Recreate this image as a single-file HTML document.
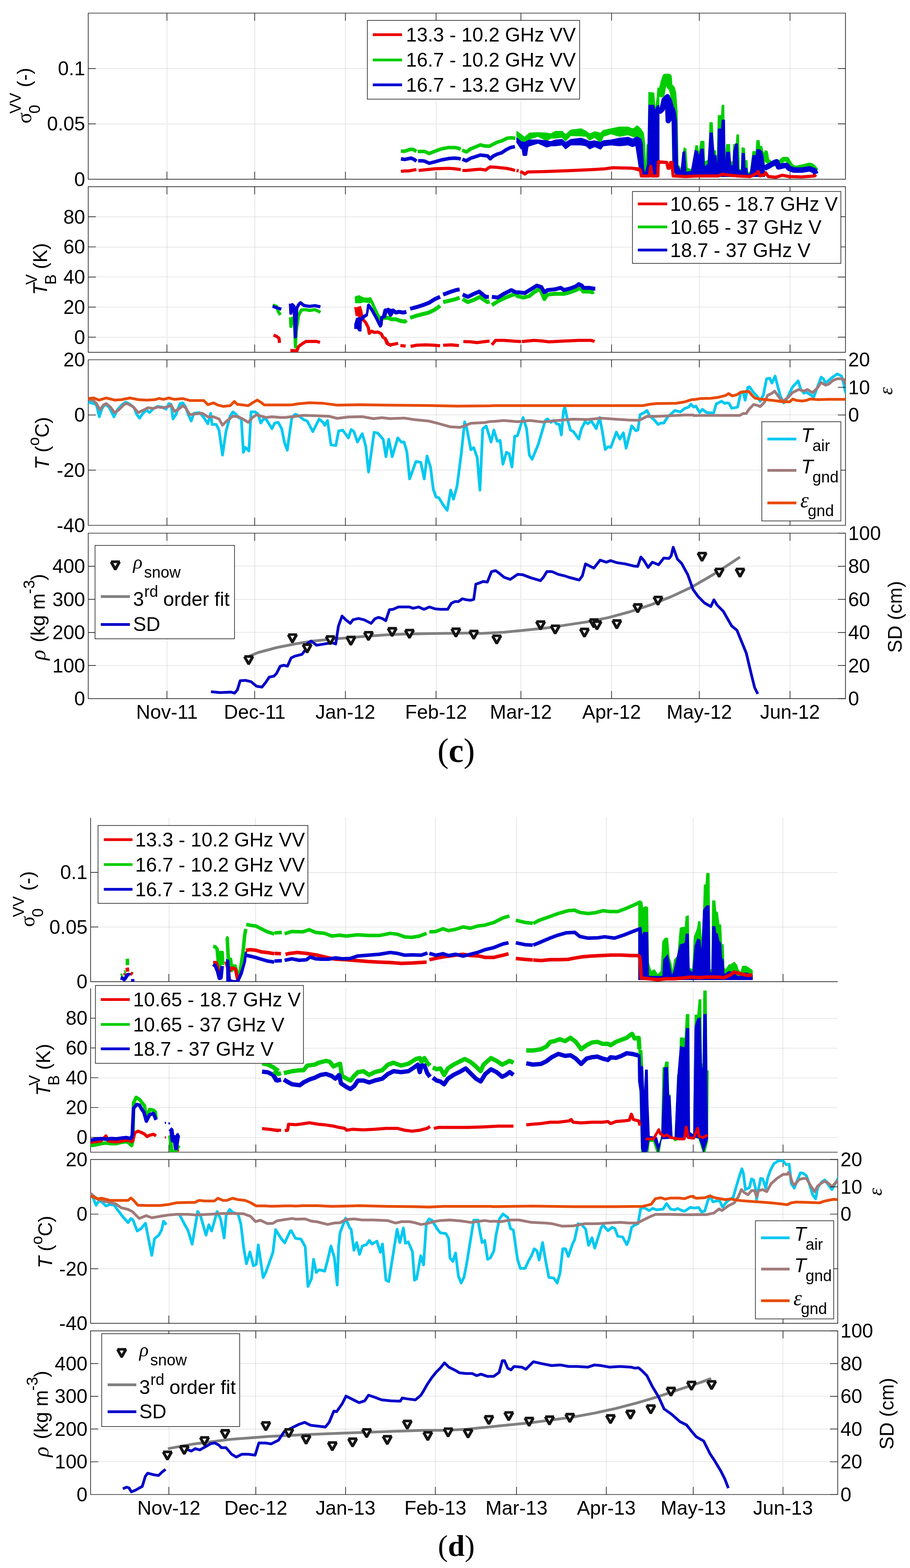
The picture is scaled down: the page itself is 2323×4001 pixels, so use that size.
<!DOCTYPE html><html><head><meta charset="utf-8"><title>figure</title><style>html,body{margin:0;padding:0;background:#fff}svg{display:block}</style></head><body><svg width="2323" height="4001" viewBox="0 0 2323 4001" font-family="'Liberation Sans', Arial, Helvetica, sans-serif" font-size="50" fill="#000">
<defs><clipPath id="cpc1"><rect x="225.3" y="33.5" width="1933.0000000000002" height="423.9"/></clipPath><clipPath id="cpc2"><rect x="225.3" y="476.4" width="1933.0000000000002" height="422.4"/></clipPath><clipPath id="cpc3"><rect x="225.3" y="918.0" width="1933.0000000000002" height="422.5"/></clipPath><clipPath id="cpc4"><rect x="225.3" y="1360.5" width="1933.0000000000002" height="422.0999999999999"/></clipPath><clipPath id="cpd1"><rect x="231.3" y="2086.7" width="1907.2" height="418.10000000000036"/></clipPath><clipPath id="cpd2"><rect x="231.3" y="2522.0" width="1907.2" height="418.0"/></clipPath><clipPath id="cpd3"><rect x="231.3" y="2958.7" width="1907.2" height="417.9000000000001"/></clipPath><clipPath id="cpd4"><rect x="231.3" y="3395.8" width="1907.2" height="417.6999999999998"/></clipPath></defs>
<rect width="2323" height="4001" fill="#fff"/>
<g stroke="#777" stroke-width="1" stroke-dasharray="1 2" fill="none" shape-rendering="crispEdges"><line x1="426.5" y1="33.5" x2="426.5" y2="457.4"/><line x1="650.5" y1="33.5" x2="650.5" y2="457.4"/><line x1="881.5" y1="33.5" x2="881.5" y2="457.4"/><line x1="1113.5" y1="33.5" x2="1113.5" y2="457.4"/><line x1="1329.5" y1="33.5" x2="1329.5" y2="457.4"/><line x1="1561.5" y1="33.5" x2="1561.5" y2="457.4"/><line x1="1785.5" y1="33.5" x2="1785.5" y2="457.4"/><line x1="2016.5" y1="33.5" x2="2016.5" y2="457.4"/><line x1="225.3" y1="316.5" x2="2158.3" y2="316.5"/><line x1="225.3" y1="174.5" x2="2158.3" y2="174.5"/></g>
<path d="M426.2 457.4V437.9M426.2 33.5V53.0M650.2 457.4V437.9M650.2 33.5V53.0M881.7 457.4V437.9M881.7 33.5V53.0M1113.2 457.4V437.9M1113.2 33.5V53.0M1329.7 457.4V437.9M1329.7 33.5V53.0M1561.2 457.4V437.9M1561.2 33.5V53.0M1785.2 457.4V437.9M1785.2 33.5V53.0M2016.7 457.4V437.9M2016.7 33.5V53.0M225.3 457.4H244.8M2158.3 457.4H2138.8M225.3 316.1H244.8M2158.3 316.1H2138.8M225.3 174.8H244.8M2158.3 174.8H2138.8M225.3 33.5H2158.3V457.4H225.3Z" stroke="#1c1c1c" stroke-width="1.7" fill="none"/>
<g stroke="#777" stroke-width="1" stroke-dasharray="1 2" fill="none" shape-rendering="crispEdges"><line x1="426.5" y1="476.4" x2="426.5" y2="898.8"/><line x1="650.5" y1="476.4" x2="650.5" y2="898.8"/><line x1="881.5" y1="476.4" x2="881.5" y2="898.8"/><line x1="1113.5" y1="476.4" x2="1113.5" y2="898.8"/><line x1="1329.5" y1="476.4" x2="1329.5" y2="898.8"/><line x1="1561.5" y1="476.4" x2="1561.5" y2="898.8"/><line x1="1785.5" y1="476.4" x2="1785.5" y2="898.8"/><line x1="2016.5" y1="476.4" x2="2016.5" y2="898.8"/><line x1="225.3" y1="860.5" x2="2158.3" y2="860.5"/><line x1="225.3" y1="783.5" x2="2158.3" y2="783.5"/><line x1="225.3" y1="706.5" x2="2158.3" y2="706.5"/><line x1="225.3" y1="630.5" x2="2158.3" y2="630.5"/><line x1="225.3" y1="553.5" x2="2158.3" y2="553.5"/></g>
<path d="M426.2 898.8V879.3M426.2 476.4V495.9M650.2 898.8V879.3M650.2 476.4V495.9M881.7 898.8V879.3M881.7 476.4V495.9M1113.2 898.8V879.3M1113.2 476.4V495.9M1329.7 898.8V879.3M1329.7 476.4V495.9M1561.2 898.8V879.3M1561.2 476.4V495.9M1785.2 898.8V879.3M1785.2 476.4V495.9M2016.7 898.8V879.3M2016.7 476.4V495.9M225.3 860.4H244.8M2158.3 860.4H2138.8M225.3 783.6H244.8M2158.3 783.6H2138.8M225.3 706.8H244.8M2158.3 706.8H2138.8M225.3 630.0H244.8M2158.3 630.0H2138.8M225.3 553.2H244.8M2158.3 553.2H2138.8M225.3 476.4H2158.3V898.8H225.3Z" stroke="#1c1c1c" stroke-width="1.7" fill="none"/>
<g stroke="#777" stroke-width="1" stroke-dasharray="1 2" fill="none" shape-rendering="crispEdges"><line x1="426.5" y1="918.0" x2="426.5" y2="1340.5"/><line x1="650.5" y1="918.0" x2="650.5" y2="1340.5"/><line x1="881.5" y1="918.0" x2="881.5" y2="1340.5"/><line x1="1113.5" y1="918.0" x2="1113.5" y2="1340.5"/><line x1="1329.5" y1="918.0" x2="1329.5" y2="1340.5"/><line x1="1561.5" y1="918.0" x2="1561.5" y2="1340.5"/><line x1="1785.5" y1="918.0" x2="1785.5" y2="1340.5"/><line x1="2016.5" y1="918.0" x2="2016.5" y2="1340.5"/><line x1="225.3" y1="1199.5" x2="2158.3" y2="1199.5"/><line x1="225.3" y1="1058.5" x2="2158.3" y2="1058.5"/></g>
<path d="M426.2 1340.5V1321.0M426.2 918.0V937.5M650.2 1340.5V1321.0M650.2 918.0V937.5M881.7 1340.5V1321.0M881.7 918.0V937.5M1113.2 1340.5V1321.0M1113.2 918.0V937.5M1329.7 1340.5V1321.0M1329.7 918.0V937.5M1561.2 1340.5V1321.0M1561.2 918.0V937.5M1785.2 1340.5V1321.0M1785.2 918.0V937.5M2016.7 1340.5V1321.0M2016.7 918.0V937.5M225.3 1340.5H244.8M225.3 1199.7H244.8M225.3 1058.8H244.8M225.3 918.0H244.8M225.3 918.0H2158.3V1340.5H225.3Z" stroke="#1c1c1c" stroke-width="1.7" fill="none"/>
<g stroke="#777" stroke-width="1" stroke-dasharray="1 2" fill="none" shape-rendering="crispEdges"><line x1="426.5" y1="1360.5" x2="426.5" y2="1782.6"/><line x1="650.5" y1="1360.5" x2="650.5" y2="1782.6"/><line x1="881.5" y1="1360.5" x2="881.5" y2="1782.6"/><line x1="1113.5" y1="1360.5" x2="1113.5" y2="1782.6"/><line x1="1329.5" y1="1360.5" x2="1329.5" y2="1782.6"/><line x1="1561.5" y1="1360.5" x2="1561.5" y2="1782.6"/><line x1="1785.5" y1="1360.5" x2="1785.5" y2="1782.6"/><line x1="2016.5" y1="1360.5" x2="2016.5" y2="1782.6"/><line x1="225.3" y1="1698.5" x2="2158.3" y2="1698.5"/><line x1="225.3" y1="1613.5" x2="2158.3" y2="1613.5"/><line x1="225.3" y1="1529.5" x2="2158.3" y2="1529.5"/><line x1="225.3" y1="1444.5" x2="2158.3" y2="1444.5"/></g>
<path d="M426.2 1782.6V1763.1M426.2 1360.5V1380.0M650.2 1782.6V1763.1M650.2 1360.5V1380.0M881.7 1782.6V1763.1M881.7 1360.5V1380.0M1113.2 1782.6V1763.1M1113.2 1360.5V1380.0M1329.7 1782.6V1763.1M1329.7 1360.5V1380.0M1561.2 1782.6V1763.1M1561.2 1360.5V1380.0M1785.2 1782.6V1763.1M1785.2 1360.5V1380.0M2016.7 1782.6V1763.1M2016.7 1360.5V1380.0M225.3 1782.6H244.8M225.3 1698.2H244.8M225.3 1613.8H244.8M225.3 1529.3H244.8M225.3 1444.9H244.8M225.3 1360.5H2158.3V1782.6H225.3Z" stroke="#1c1c1c" stroke-width="1.7" fill="none"/>
<g stroke="#777" stroke-width="1" stroke-dasharray="1 2" fill="none" shape-rendering="crispEdges"><line x1="431.5" y1="2086.7" x2="431.5" y2="2504.8"/><line x1="652.5" y1="2086.7" x2="652.5" y2="2504.8"/><line x1="882.5" y1="2086.7" x2="882.5" y2="2504.8"/><line x1="1111.5" y1="2086.7" x2="1111.5" y2="2504.8"/><line x1="1318.5" y1="2086.7" x2="1318.5" y2="2504.8"/><line x1="1547.5" y1="2086.7" x2="1547.5" y2="2504.8"/><line x1="1769.5" y1="2086.7" x2="1769.5" y2="2504.8"/><line x1="1998.5" y1="2086.7" x2="1998.5" y2="2504.8"/><line x1="231.3" y1="2365.5" x2="2138.5" y2="2365.5"/><line x1="231.3" y1="2226.5" x2="2138.5" y2="2226.5"/></g>
<path d="M431.1 2504.8V2485.3M653.0 2504.8V2485.3M882.2 2504.8V2485.3M1111.4 2504.8V2485.3M1318.5 2504.8V2485.3M1547.7 2504.8V2485.3M1769.6 2504.8V2485.3M1998.8 2504.8V2485.3M231.3 2504.8H250.8M231.3 2365.4H250.8M231.3 2226.1H250.8M231.3 2086.7V2504.8H2138.5" stroke="#1c1c1c" stroke-width="1.7" fill="none"/>
<g stroke="#777" stroke-width="1" stroke-dasharray="1 2" fill="none" shape-rendering="crispEdges"><line x1="431.5" y1="2522.0" x2="431.5" y2="2940.0"/><line x1="652.5" y1="2522.0" x2="652.5" y2="2940.0"/><line x1="882.5" y1="2522.0" x2="882.5" y2="2940.0"/><line x1="1111.5" y1="2522.0" x2="1111.5" y2="2940.0"/><line x1="1318.5" y1="2522.0" x2="1318.5" y2="2940.0"/><line x1="1547.5" y1="2522.0" x2="1547.5" y2="2940.0"/><line x1="1769.5" y1="2522.0" x2="1769.5" y2="2940.0"/><line x1="1998.5" y1="2522.0" x2="1998.5" y2="2940.0"/><line x1="231.3" y1="2902.5" x2="2138.5" y2="2902.5"/><line x1="231.3" y1="2826.5" x2="2138.5" y2="2826.5"/><line x1="231.3" y1="2750.5" x2="2138.5" y2="2750.5"/><line x1="231.3" y1="2674.5" x2="2138.5" y2="2674.5"/><line x1="231.3" y1="2598.5" x2="2138.5" y2="2598.5"/></g>
<path d="M431.1 2940.0V2920.5M653.0 2940.0V2920.5M882.2 2940.0V2920.5M1111.4 2940.0V2920.5M1318.5 2940.0V2920.5M1547.7 2940.0V2920.5M1769.6 2940.0V2920.5M1998.8 2940.0V2920.5M231.3 2902.0H250.8M231.3 2826.0H250.8M231.3 2750.0H250.8M231.3 2674.0H250.8M231.3 2598.0H250.8M231.3 2522.0V2940.0H2138.5" stroke="#1c1c1c" stroke-width="1.7" fill="none"/>
<g stroke="#777" stroke-width="1" stroke-dasharray="1 2" fill="none" shape-rendering="crispEdges"><line x1="431.5" y1="2958.7" x2="431.5" y2="3376.6"/><line x1="652.5" y1="2958.7" x2="652.5" y2="3376.6"/><line x1="882.5" y1="2958.7" x2="882.5" y2="3376.6"/><line x1="1111.5" y1="2958.7" x2="1111.5" y2="3376.6"/><line x1="1318.5" y1="2958.7" x2="1318.5" y2="3376.6"/><line x1="1547.5" y1="2958.7" x2="1547.5" y2="3376.6"/><line x1="1769.5" y1="2958.7" x2="1769.5" y2="3376.6"/><line x1="1998.5" y1="2958.7" x2="1998.5" y2="3376.6"/><line x1="231.3" y1="3237.5" x2="2138.5" y2="3237.5"/><line x1="231.3" y1="3098.5" x2="2138.5" y2="3098.5"/></g>
<path d="M431.1 3376.6V3357.1M431.1 2958.7V2978.2M653.0 3376.6V3357.1M653.0 2958.7V2978.2M882.2 3376.6V3357.1M882.2 2958.7V2978.2M1111.4 3376.6V3357.1M1111.4 2958.7V2978.2M1318.5 3376.6V3357.1M1318.5 2958.7V2978.2M1547.7 3376.6V3357.1M1547.7 2958.7V2978.2M1769.6 3376.6V3357.1M1769.6 2958.7V2978.2M1998.8 3376.6V3357.1M1998.8 2958.7V2978.2M231.3 3376.6H250.8M231.3 3237.3H250.8M231.3 3098.0H250.8M231.3 2958.7H250.8M231.3 2958.7H2138.5V3376.6H231.3Z" stroke="#1c1c1c" stroke-width="1.7" fill="none"/>
<g stroke="#777" stroke-width="1" stroke-dasharray="1 2" fill="none" shape-rendering="crispEdges"><line x1="431.5" y1="3395.8" x2="431.5" y2="3813.5"/><line x1="652.5" y1="3395.8" x2="652.5" y2="3813.5"/><line x1="882.5" y1="3395.8" x2="882.5" y2="3813.5"/><line x1="1111.5" y1="3395.8" x2="1111.5" y2="3813.5"/><line x1="1318.5" y1="3395.8" x2="1318.5" y2="3813.5"/><line x1="1547.5" y1="3395.8" x2="1547.5" y2="3813.5"/><line x1="1769.5" y1="3395.8" x2="1769.5" y2="3813.5"/><line x1="1998.5" y1="3395.8" x2="1998.5" y2="3813.5"/><line x1="231.3" y1="3729.5" x2="2138.5" y2="3729.5"/><line x1="231.3" y1="3646.5" x2="2138.5" y2="3646.5"/><line x1="231.3" y1="3562.5" x2="2138.5" y2="3562.5"/><line x1="231.3" y1="3479.5" x2="2138.5" y2="3479.5"/></g>
<path d="M431.1 3813.5V3794.0M431.1 3395.8V3415.3M653.0 3813.5V3794.0M653.0 3395.8V3415.3M882.2 3813.5V3794.0M882.2 3395.8V3415.3M1111.4 3813.5V3794.0M1111.4 3395.8V3415.3M1318.5 3813.5V3794.0M1318.5 3395.8V3415.3M1547.7 3813.5V3794.0M1547.7 3395.8V3415.3M1769.6 3813.5V3794.0M1769.6 3395.8V3415.3M1998.8 3813.5V3794.0M1998.8 3395.8V3415.3M231.3 3813.5H250.8M231.3 3730.0H250.8M231.3 3646.4H250.8M231.3 3562.9H250.8M231.3 3479.3H250.8M231.3 3395.8H2138.5V3813.5H231.3Z" stroke="#1c1c1c" stroke-width="1.7" fill="none"/>
<g clip-path="url(#cpc1)">
<polyline points="1023.5,385.4 1032.6,385.9 1048.3,380.9 1055.1,381.4 1063.0,386.5" stroke="#00cd00" stroke-width="9" fill="none" stroke-linejoin="round"/>
<polyline points="1066.4,386.5 1077.7,386.5 1084.4,386.5 1095.7,391.7 1111.5,385.4 1127.3,379.8 1145.3,376.4 1158.9,376.4 1167.9,377.5 1176.2,380.9" stroke="#00cd00" stroke-width="9" fill="none" stroke-linejoin="round"/>
<polyline points="1179.6,383.2 1190.5,387.7 1201.7,379.8 1213.0,375.3 1226.5,369.6 1235.6,372.3 1249.1,373.0 1258.1,368.5 1269.4,362.9 1280.7,359.5 1294.2,352.7 1303.2,351.6 1315.6,352.7" stroke="#00cd00" stroke-width="9" fill="none" stroke-linejoin="round"/>
<polygon points="1319.1,335.0 1330.0,342.7 1338.7,350.3 1351.9,339.4 1373.7,338.3 1395.6,339.4 1406.6,341.6 1417.5,335.0 1435.0,335.0 1443.7,343.7 1456.9,331.7 1483.1,328.4 1496.2,335.0 1505.0,341.6 1518.1,336.1 1533.4,339.4 1540.0,332.8 1559.7,328.4 1581.5,324.1 1603.4,324.1 1614.3,328.4 1627.5,324.1 1636.2,335.0 1640.6,339.4 1640.6,365.6 1636.2,359.1 1627.5,352.5 1614.3,348.1 1603.4,343.7 1581.5,348.1 1559.7,341.6 1540.0,348.1 1533.4,365.6 1518.1,350.3 1505.0,358.0 1496.2,348.1 1483.1,347.0 1456.9,345.9 1443.7,360.1 1435.0,350.3 1417.5,352.5 1406.6,352.5 1395.6,359.1 1373.7,348.1 1351.9,354.7 1338.7,365.6 1330.0,363.4 1319.1,347.0" fill="#00cd00" stroke="#00cd00" stroke-width="2" stroke-linejoin="round"/>
<polyline points="1333.3,352.5 1336.6,372.2 1342.0,372.2 1346.4,354.7" stroke="#00cd00" stroke-width="8" fill="none" stroke-linejoin="round"/>
<polyline points="1620.0,330.8 1626.6,324.2 1633.1,330.8 1639.7,340.6 1643.0,366.9 1644.6,432.5 1647.9,445.6" stroke="#00cd00" stroke-width="8" fill="none" stroke-linejoin="round"/>
<polygon points="1634.8,448.9 1639.7,340.6 1643.0,366.9 1644.6,432.5 1647.9,445.6 1651.2,370.1 1654.4,366.9 1656.1,235.6 1669.2,237.3 1672.5,281.5 1677.4,248.7 1679.1,224.1 1682.3,225.1 1682.3,448.9" fill="#00cd00" stroke="#00cd00" stroke-width="2" stroke-linejoin="round"/>
<polyline points="1682.3,225.1 1685.6,225.8 1688.9,240.5 1693.8,211.0 1698.7,196.2 1706.9,196.2 1708.6,219.2 1715.1,225.8 1718.4,238.9 1721.7,284.8 1724.3,432.5" stroke="#00cd00" stroke-width="16" fill="none" stroke-linejoin="round"/>
<polygon points="1724.3,450.5 1724.3,432.5 1728.3,425.9 1733.2,422.6 1738.1,432.5 1743.0,399.7 1746.3,376.7 1751.2,380.0 1754.5,429.2 1764.4,432.5 1770.9,416.1 1775.8,371.8 1780.8,371.8 1784.0,393.1 1789.0,360.3 1797.2,360.3 1798.8,412.8 1807.0,409.5 1810.3,396.4 1811.9,312.7 1818.5,312.7 1821.8,383.3 1826.7,384.9 1830.0,439.0 1833.3,294.7 1841.5,294.7 1843.1,268.4 1848.0,268.4 1849.7,425.9 1854.6,368.5 1862.8,368.5 1864.4,412.8 1871.0,412.8 1872.6,368.5 1879.2,368.5 1880.8,343.9 1885.7,343.9 1887.4,432.5 1892.3,432.5 1894.0,376.7 1900.5,378.3 1902.2,409.5 1907.1,409.5 1908.7,442.3 1915.3,437.4 1921.8,386.5 1930.0,386.5 1931.7,358.6 1938.2,358.6 1939.9,373.4 1944.8,373.4 1948.1,388.2 1951.4,389.8 1951.4,450.5" fill="#00cd00" stroke="#00cd00" stroke-width="2" stroke-linejoin="round"/>
<polyline points="1951.4,389.8 1954.6,389.8 1957.9,409.5 1964.5,414.4 1971.0,419.3 1980.9,417.7 1990.7,414.4 2000.6,406.2 2008.8,406.2 2013.7,414.4 2020.3,424.3 2030.1,429.2 2046.5,425.9 2066.2,421.0 2072.8,422.6 2079.3,429.2 2084.2,435.7" stroke="#00cd00" stroke-width="12" fill="none" stroke-linejoin="round"/>
<polyline points="1023.5,405.3 1032.6,406.8 1049.5,403.5 1057.4,406.8 1063.0,411.4" stroke="#0000d2" stroke-width="9" fill="none" stroke-linejoin="round"/>
<polyline points="1067.5,410.2 1077.7,410.2 1084.4,411.4 1095.7,416.5 1111.5,412.5 1127.3,408.0 1145.3,404.6 1158.9,403.5 1167.9,403.9 1176.2,405.7" stroke="#0000d2" stroke-width="9" fill="none" stroke-linejoin="round"/>
<polyline points="1180.3,406.4 1190.5,410.2 1201.7,403.5 1213.0,400.1 1226.5,395.6 1235.6,396.7 1244.6,397.8 1251.4,405.3 1258.1,398.9 1269.4,393.3 1280.7,389.9 1292.0,382.0 1303.2,376.4 1314.5,374.1" stroke="#0000d2" stroke-width="9" fill="none" stroke-linejoin="round"/>
<polygon points="1319.1,351.4 1330.0,361.2 1338.7,363.4 1351.9,356.9 1373.7,356.9 1395.6,359.1 1406.6,361.2 1417.5,356.9 1435.0,355.8 1443.7,363.4 1456.9,355.8 1483.1,352.5 1496.2,356.9 1505.0,361.2 1518.1,359.1 1533.4,363.4 1540.0,359.1 1559.7,356.9 1581.5,352.5 1603.4,350.3 1614.3,354.7 1627.5,350.3 1636.2,354.7 1639.5,365.6 1639.5,387.5 1636.2,380.9 1627.5,370.0 1614.3,374.4 1603.4,370.0 1581.5,372.2 1559.7,370.0 1540.0,372.2 1533.4,380.9 1518.1,374.4 1505.0,380.1 1496.2,372.2 1483.1,370.0 1456.9,370.0 1443.7,380.1 1435.0,370.0 1417.5,372.2 1406.6,372.2 1395.6,375.5 1373.7,365.6 1351.9,372.2 1338.7,380.1 1330.0,380.1 1319.1,363.4" fill="#0000d2" stroke="#0000d2" stroke-width="2" stroke-linejoin="round"/>
<polyline points="1334.4,372.2 1337.7,394.1 1342.0,394.1 1345.3,372.2" stroke="#0000d2" stroke-width="8" fill="none" stroke-linejoin="round"/>
<polygon points="1620.0,352.1 1626.6,348.8 1633.1,353.7 1634.8,370.1 1639.7,366.9 1643.0,425.9 1646.2,445.6 1652.8,419.3 1656.1,268.4 1669.2,268.4 1672.5,283.2 1677.4,270.1 1682.3,268.4 1682.3,448.9 1634.8,448.9" fill="#0000d2" stroke="#0000d2" stroke-width="2" stroke-linejoin="round"/>
<polyline points="1682.3,275.0 1685.6,283.2 1690.5,278.3 1695.5,255.3 1703.7,247.1 1706.0,307.8 1707.9,255.3 1711.9,268.4 1713.5,301.2 1715.8,278.3 1718.4,288.1 1721.7,311.1 1724.3,442.3" stroke="#0000d2" stroke-width="14" fill="none" stroke-linejoin="round"/>
<polygon points="1724.3,442.3 1731.5,424.3 1738.1,439.0 1743.0,388.2 1748.0,386.5 1751.2,439.0 1764.4,437.4 1774.2,383.3 1780.8,386.5 1784.0,399.7 1789.0,380.0 1795.5,380.0 1798.8,425.9 1807.0,419.3 1811.9,339.0 1818.5,339.0 1823.4,396.4 1828.3,396.4 1831.6,442.3 1833.3,329.1 1841.5,329.1 1843.1,306.2 1849.7,306.2 1851.3,432.5 1854.6,388.2 1862.8,388.2 1866.1,422.6 1871.0,422.6 1872.6,386.5 1877.5,366.9 1882.5,366.9 1885.7,432.5 1892.3,439.0 1894.0,391.5 1900.5,391.5 1902.2,429.2 1907.1,429.2 1908.7,445.6 1915.3,442.3 1921.8,396.4 1930.0,396.4 1931.7,381.6 1938.2,381.6 1944.8,386.5 1948.1,399.7 1951.4,429.2 1951.4,450.5 1724.3,450.5" fill="#0000d2" stroke="#0000d2" stroke-width="2" stroke-linejoin="round"/>
<polyline points="1951.4,429.2 1964.5,422.6 1977.6,414.4 1982.5,412.8 1987.5,425.9 2000.6,422.6 2008.8,422.6 2013.7,429.2 2026.8,434.1 2046.5,434.1 2066.2,430.8 2079.3,435.7 2082.6,444.0" stroke="#0000d2" stroke-width="14" fill="none" stroke-linejoin="round"/>
<polyline points="1023.5,437.3 1032.6,436.2 1043.8,436.2 1055.1,433.9 1063.0,432.8" stroke="#eb0000" stroke-width="8" fill="none" stroke-linejoin="round"/>
<polyline points="1068.6,435.0 1077.7,433.9 1100.2,431.7 1111.5,430.5 1127.3,429.9 1145.3,429.4 1158.9,430.5 1176.2,432.8" stroke="#eb0000" stroke-width="8" fill="none" stroke-linejoin="round"/>
<polyline points="1180.3,435.0 1190.5,435.0 1213.0,432.8 1226.5,431.7 1240.1,433.9 1246.8,428.3 1251.4,426.0 1269.4,427.1 1292.0,429.4 1303.2,431.7 1315.0,435.0" stroke="#eb0000" stroke-width="8" fill="none" stroke-linejoin="round"/>
<polyline points="1318.6,435.0 1324.0,436.2" stroke="#eb0000" stroke-width="8" fill="none" stroke-linejoin="round"/>
<polyline points="1328.0,437.3 1334.8,440.7 1340.0,444.1 1347.4,438.8 1383.5,437.9 1451.1,435.6 1496.2,433.4 1541.3,431.1 1563.9,428.0 1609.0,428.9 1631.6,431.1 1636.1,437.9" stroke="#eb0000" stroke-width="8" fill="none" stroke-linejoin="round"/>
<polyline points="1620.0,430.8 1634.8,434.1 1637.1,448.9 1657.7,448.9 1661.0,424.3 1664.3,448.9 1679.1,448.9 1680.7,412.8 1702.0,414.4 1705.3,429.2 1708.6,429.2 1711.9,414.4 1715.1,414.4 1718.4,448.9 1751.2,450.5 1784.0,448.9 1833.3,448.9 1846.4,444.0 1849.7,445.6 1882.5,448.9 1915.3,450.5 1931.7,442.3 1935.6,437.4 1939.9,448.9 1951.4,445.6 1954.6,440.7 1961.2,450.5 1980.9,452.2 1997.3,447.2 2013.7,450.5 2046.5,451.5 2079.3,448.9 2083.3,445.6" stroke="#eb0000" stroke-width="8" fill="none" stroke-linejoin="round"/>
</g>
<g clip-path="url(#cpc2)">
<polyline points="696.0,778.3 706.5,781.8 710.0,794.6 715.8,803.9" stroke="#00cd00" stroke-width="8" fill="none" stroke-linejoin="round"/>
<polyline points="698.3,855.0 706.5,858.5 712.3,863.2 713.5,874.8" stroke="#eb0000" stroke-width="8" fill="none" stroke-linejoin="round"/>
<polyline points="696.0,781.8 706.5,785.3 718.1,788.8" stroke="#0000d2" stroke-width="8" fill="none" stroke-linejoin="round"/>
<polyline points="741.3,809.7 742.5,833.0 746.0,812.0 751.8,828.3 754.1,885.2 756.4,844.6 762.3,805.1 769.2,791.1 780.8,790.0 790.1,792.3 804.1,790.0 818.0,796.9" stroke="#00cd00" stroke-width="8" fill="none" stroke-linejoin="round"/>
<polyline points="741.3,774.9 742.5,799.3 746.0,777.2 750.6,781.8 754.1,859.7 757.6,786.5 762.3,777.2 766.9,772.5 776.2,779.5 790.1,781.8 804.1,780.0 818.0,783.0" stroke="#0000d2" stroke-width="8" fill="none" stroke-linejoin="round"/>
<polyline points="741.3,894.5 750.6,894.5 757.6,895.7 762.3,884.1 771.6,877.1 780.8,871.3 794.8,871.3 808.7,871.3 816.9,873.6" stroke="#eb0000" stroke-width="8" fill="none" stroke-linejoin="round"/>
<polyline points="980.0,811.0 991.5,811.0 999.1,814.8 1010.6,814.8 1022.1,818.7 1033.6,820.6 1037.4,816.7" stroke="#00cd00" stroke-width="10" fill="none" stroke-linejoin="round"/>
<polyline points="1047.0,811.0 1064.2,805.3 1079.5,801.4 1094.8,797.6 1110.1,790.0 1123.5,780.4" stroke="#00cd00" stroke-width="10" fill="none" stroke-linejoin="round"/>
<polyline points="1131.2,770.8 1148.4,767.0 1163.7,763.2 1173.3,759.3" stroke="#00cd00" stroke-width="10" fill="none" stroke-linejoin="round"/>
<polyline points="1181.0,763.2 1194.4,770.8 1209.7,765.1 1225.0,757.4 1232.6,763.2 1244.1,770.8 1249.9,768.9" stroke="#00cd00" stroke-width="10" fill="none" stroke-linejoin="round"/>
<polyline points="1255.6,778.5 1270.9,768.9 1286.2,761.2 1305.4,753.6 1316.8,749.8 1320.7,755.5 1336.0,759.3 1351.3,755.5 1362.8,745.9 1378.1,736.4 1385.7,753.6 1389.6,763.2 1397.2,751.7 1416.4,749.8 1439.3,749.8 1454.6,745.9 1470.0,740.2 1481.4,734.4 1489.1,744.0 1504.4,744.0 1512.1,745.9 1515.9,744.0" stroke="#00cd00" stroke-width="10" fill="none" stroke-linejoin="round"/>
<polyline points="981.9,860.8 987.7,876.1 995.3,879.9 1006.8,878.0 1016.4,876.1" stroke="#eb0000" stroke-width="8" fill="none" stroke-linejoin="round"/>
<polyline points="1022.1,881.8 1035.5,883.0" stroke="#eb0000" stroke-width="8" fill="none" stroke-linejoin="round"/>
<polyline points="1048.1,883.7 1064.2,880.7 1087.2,879.9 1106.3,880.7 1123.5,882.2" stroke="#eb0000" stroke-width="8" fill="none" stroke-linejoin="round"/>
<polyline points="1131.2,881.1 1152.2,879.9 1171.4,881.8" stroke="#eb0000" stroke-width="8" fill="none" stroke-linejoin="round"/>
<polyline points="1182.9,871.5 1202.0,872.2 1217.3,874.2 1232.6,872.2 1249.9,870.3" stroke="#eb0000" stroke-width="8" fill="none" stroke-linejoin="round"/>
<polyline points="1255.6,879.9 1265.2,868.4 1286.2,868.4 1309.2,870.3 1328.3,871.5 1330.2,871.5" stroke="#eb0000" stroke-width="8" fill="none" stroke-linejoin="round"/>
<polyline points="1332.2,871.5 1362.8,868.4 1385.7,870.3 1401.1,872.2 1439.3,870.3 1477.6,868.4 1508.2,868.4 1517.8,871.1" stroke="#eb0000" stroke-width="8" fill="none" stroke-linejoin="round"/>
<polyline points="980.0,807.2 983.8,791.9 991.5,791.9 997.2,803.3 1003.0,791.9 1010.6,797.6 1018.3,795.7 1029.8,797.6 1037.4,795.7" stroke="#0000d2" stroke-width="10" fill="none" stroke-linejoin="round"/>
<polyline points="1047.0,788.0 1064.2,783.4 1079.5,778.5 1094.8,772.7 1110.1,763.2 1123.5,757.4" stroke="#0000d2" stroke-width="10" fill="none" stroke-linejoin="round"/>
<polyline points="1131.2,751.7 1148.4,745.2 1163.7,740.2 1173.3,738.3" stroke="#0000d2" stroke-width="10" fill="none" stroke-linejoin="round"/>
<polyline points="1181.0,751.7 1194.4,757.4 1209.7,749.8 1223.1,744.0 1232.6,751.7 1240.3,757.4 1247.9,757.4" stroke="#0000d2" stroke-width="10" fill="none" stroke-linejoin="round"/>
<polyline points="1255.6,757.4 1270.9,759.3 1286.2,749.8 1305.4,740.2 1316.8,745.9 1324.5,745.9 1339.8,747.8 1355.1,738.3 1370.4,728.7 1381.9,732.5 1389.6,745.9 1397.2,740.2 1416.4,738.3 1431.7,734.4 1439.3,740.2 1454.6,736.4 1470.0,730.6 1477.6,724.9 1485.3,728.7 1489.1,734.4 1504.4,734.4 1515.9,736.4 1519.7,736.4" stroke="#0000d2" stroke-width="10" fill="none" stroke-linejoin="round"/>
<polygon points="906.4,757.5 916.2,754.2 927.2,759.7 940.3,760.8 944.7,758.6 947.9,761.9 950.1,772.8 943.6,772.8 938.1,771.7 927.2,770.6 920.6,772.8 907.5,772.8" fill="#00cd00" stroke="#00cd00" stroke-width="2" stroke-linejoin="round"/>
<polyline points="945.7,764.1 951.2,775.0 957.8,790.3 964.3,803.4 973.1,817.6 977.5,812.2 986.2,810.0 995.0,812.2 1000.0,813.3" stroke="#00cd00" stroke-width="8" fill="none" stroke-linejoin="round"/>
<polygon points="905.3,784.8 911.8,784.8 916.2,782.7 920.6,781.6 923.9,792.5 926.1,805.6 927.6,816.6 922.8,812.2 918.4,810.0 912.9,805.6 908.6,805.6" fill="#eb0000" stroke="#eb0000" stroke-width="2" stroke-linejoin="round"/>
<polyline points="926.7,815.5 933.7,823.1 940.3,836.2 942.5,850.5 949.0,845.0 955.6,848.3 964.3,847.2 973.1,851.5 977.5,860.3 984.0,864.7 990.6,877.8 1000.0,882.2" stroke="#eb0000" stroke-width="8" fill="none" stroke-linejoin="round"/>
<polygon points="905.3,827.5 909.7,812.2 916.2,810.0 920.6,812.2 922.8,807.8 929.3,803.4 934.8,801.2 938.1,777.2 941.4,775.0 942.0,783.7 938.1,805.6 929.3,812.2 922.8,818.7 921.7,845.0 916.2,845.0 911.8,838.4 905.3,838.4" fill="#0000d2" stroke="#0000d2" stroke-width="2" stroke-linejoin="round"/>
<polyline points="940.3,777.2 949.0,790.3 960.0,810.0 970.9,831.9 973.1,827.5 974.2,810.0 981.8,807.8 986.2,792.5 990.6,789.2 995.0,791.4 1000.0,792.5" stroke="#0000d2" stroke-width="8" fill="none" stroke-linejoin="round"/>
</g>
<g clip-path="url(#cpc3)">
<polyline points="225.0,1026.2 239.2,1029.8 246.3,1033.3 253.4,1063.5 260.5,1042.2 267.7,1031.5 278.3,1038.6 290.8,1063.5 299.6,1045.8 310.3,1033.3 321.0,1026.2 331.6,1031.5 342.3,1040.4 349.4,1058.2 356.5,1067.1 363.6,1056.4 374.3,1045.8 381.4,1052.9 392.1,1042.2 402.7,1036.9 413.4,1038.6 424.0,1044.0 431.1,1029.8 436.5,1031.5 441.8,1068.9 448.9,1058.2 459.6,1029.8 466.7,1028.0 473.8,1038.6 480.9,1058.2 488.0,1074.2 495.1,1054.6 509.3,1052.9 520.0,1065.3 530.7,1081.3 537.8,1054.6 541.3,1083.1 552.0,1083.1 559.1,1097.3 568.0,1161.3 576.9,1100.8 587.5,1061.7 594.6,1051.1 601.8,1056.4 608.9,1065.3 616.0,1068.9 621.3,1154.2 626.6,1141.7 635.5,1150.6 640.9,1051.1 651.5,1051.1 658.6,1056.4 665.7,1079.5 672.8,1068.9 679.9,1070.6 694.2,1093.7 701.3,1079.5 710.2,1077.7 719.0,1093.7 726.2,1129.3 733.3,1148.8 740.4,1097.3 745.3,1064.0 754.2,1056.9 761.3,1060.4 775.5,1071.1 784.4,1074.6 798.6,1101.3 814.6,1069.3 825.3,1078.2 828.9,1085.3 836.0,1072.9 844.9,1135.1 857.3,1136.8 864.4,1099.5 875.1,1097.7 889.3,1117.3 896.4,1096.0 903.5,1101.3 912.4,1128.0 924.8,1106.6 933.7,1138.6 940.8,1204.4 955.0,1103.1 963.9,1104.9 978.1,1120.8 985.2,1165.3 992.4,1120.8 1001.2,1165.3 1015.5,1117.3 1024.3,1128.0 1031.5,1128.0 1038.6,1152.8 1045.7,1222.1 1061.7,1177.7 1074.1,1179.5 1083.0,1222.1 1090.1,1163.5 1099.0,1191.9 1106.1,1248.8 1113.2,1268.3 1120.3,1270.1 1131.0,1287.9 1141.6,1302.1 1150.5,1250.6 1157.6,1273.7 1166.5,1241.7 1177.2,1159.9 1186.1,1076.4 1191.4,1092.4 1202.1,1147.5 1209.2,1142.2 1218.1,1167.1 1225.2,1250.6 1232.3,1094.2 1241.2,1087.1 1253.6,1128.0 1260.7,1097.3 1269.5,1125.7 1276.7,1123.9 1283.8,1184.4 1292.7,1154.2 1299.8,1157.7 1306.9,1191.5 1314.0,1113.3 1321.1,1111.5 1335.3,1065.3 1344.2,1093.7 1351.3,1161.3 1358.4,1171.9 1374.4,1132.8 1392.2,1072.4 1397.5,1068.9 1406.4,1077.7 1413.5,1072.4 1420.6,1081.3 1427.7,1083.1 1433.0,1109.7 1438.4,1049.3 1441.9,1038.6 1447.3,1065.3 1456.1,1097.3 1463.3,1100.8 1477.5,1120.4 1484.6,1093.7 1493.5,1076.0 1500.6,1081.3 1509.5,1074.2 1521.9,1093.7 1530.8,1065.3 1537.9,1102.6 1545.0,1147.1 1552.1,1139.9 1559.2,1141.7 1573.4,1102.6 1582.3,1120.4 1591.2,1104.4 1598.3,1143.5 1605.4,1115.1 1612.5,1086.6 1623.2,1099.1 1628.5,1097.3 1633.9,1058.2 1644.5,1052.9 1651.6,1047.5 1658.7,1061.7 1669.4,1070.6 1680.1,1083.1 1687.2,1079.5 1694.3,1079.5 1704.9,1063.5 1722.7,1047.5 1736.9,1051.1 1747.6,1042.2 1758.3,1038.6 1763.6,1031.5 1770.9,1038.9 1776.4,1036.2 1786.0,1052.6 1792.8,1044.4 1803.7,1052.6 1821.5,1054.0 1828.4,1030.7 1842.0,1023.9 1850.2,1029.4 1855.7,1028.0 1861.2,1029.4 1868.0,1041.7 1883.0,1038.9 1891.2,1000.7 1896.7,999.3 1902.2,1021.2 1909.0,988.4 1913.1,987.0 1924.0,1002.0 1932.2,1010.2 1940.5,1023.9 1948.7,1007.5 1956.9,966.5 1965.1,965.1 1970.5,977.4 1978.7,959.6 1984.2,981.5 1992.4,1011.6 2000.6,1028.0 2008.8,1017.1 2022.5,988.4 2037.5,971.9 2044.3,993.8 2052.5,1003.4 2058.0,1000.7 2069.0,1007.5 2077.2,1013.0 2088.1,984.3 2096.3,962.4 2101.8,966.5 2107.2,977.4 2123.6,963.7 2137.3,954.2 2148.2,959.6 2153.7,978.8 2157.8,999.3 2161.9,1004.8" stroke="#00c8f0" stroke-width="7" fill="none" stroke-linejoin="round"/>
<polyline points="225.0,1019.1 239.2,1022.7 246.3,1029.8 255.2,1045.8 264.1,1033.3 271.2,1029.8 281.9,1038.6 292.5,1052.9 303.2,1045.8 317.4,1031.5 324.5,1029.8 338.7,1036.9 353.0,1052.9 367.2,1045.8 377.8,1040.4 392.1,1042.2 402.7,1038.6 416.9,1040.4 431.1,1036.9 436.5,1033.3 445.4,1049.3 456.0,1044.0 466.7,1035.1 473.8,1040.4 484.5,1058.2 495.1,1056.4 516.5,1054.6 530.7,1063.5 544.9,1063.5 559.1,1068.9 568.0,1084.9 576.9,1076.0 594.6,1061.7 608.9,1063.5 619.5,1068.9 633.7,1077.7 644.4,1065.3 655.1,1058.2 665.7,1061.7 679.9,1065.3 694.2,1063.5 715.5,1065.3 729.7,1065.3 740.4,1063.5 747.1,1064.0 754.2,1062.2 775.5,1059.7 811.1,1061.1 839.5,1062.2 860.8,1067.5 889.3,1064.0 924.8,1063.3 953.3,1068.2 974.6,1065.8 995.9,1068.2 1031.5,1066.8 1059.9,1071.1 1095.4,1074.6 1116.8,1080.0 1148.7,1088.9 1173.6,1090.6 1184.3,1087.1 1202.1,1080.0 1237.6,1078.2 1251.8,1075.4 1260.7,1075.3 1285.5,1073.1 1321.1,1076.0 1353.1,1073.1 1385.1,1076.7 1420.6,1073.1 1463.3,1069.6 1498.8,1070.6 1534.3,1067.1 1569.9,1069.6 1605.4,1071.7 1630.3,1072.4 1637.4,1069.6 1651.6,1062.5 1676.5,1062.5 1704.9,1061.0 1726.3,1060.0 1747.6,1058.9 1770.0,1058.9 1770.9,1060.3 1787.3,1060.0 1814.7,1060.0 1842.0,1060.0 1888.5,1060.0 1896.7,1055.3 1904.9,1055.3 1913.1,1043.0 1924.0,1032.1 1935.0,1034.8 1940.5,1037.6 1951.4,1026.6 1959.6,1008.9 1970.5,1003.4 1977.4,997.9 1984.2,1007.5 1992.4,1018.4 2000.6,1022.5 2011.5,1014.3 2022.5,1002.0 2038.9,993.8 2052.5,997.9 2060.8,993.8 2074.4,1002.0 2085.4,991.1 2096.3,976.0 2107.2,982.9 2115.4,980.2 2126.4,970.6 2137.3,966.5 2148.2,966.5 2153.7,967.8 2157.8,978.8 2161.9,982.9" stroke="#a07a7a" stroke-width="7" fill="none" stroke-linejoin="round"/>
<polyline points="225.0,1017.3 239.2,1015.5 253.4,1020.9 271.2,1015.5 292.5,1020.9 310.3,1019.8 331.6,1015.5 353.0,1019.8 374.3,1020.9 395.6,1019.8 406.3,1016.6 416.9,1019.1 431.1,1015.5 445.4,1019.1 466.7,1017.0 484.5,1021.9 520.0,1021.9 530.7,1032.6 544.9,1028.0 555.5,1033.3 569.8,1036.9 587.5,1035.1 598.2,1024.4 605.3,1031.5 619.5,1033.3 633.7,1035.1 644.4,1028.0 656.8,1020.9 665.7,1026.2 674.6,1033.3 694.2,1033.3 722.6,1033.3 740.4,1033.3 747.1,1032.7 761.3,1030.2 789.8,1027.7 825.3,1029.1 860.8,1033.8 917.7,1032.7 988.8,1033.8 1095.4,1034.8 1166.5,1036.3 1251.8,1035.5 1260.7,1035.1 1321.1,1035.1 1427.7,1035.1 1534.3,1035.1 1641.0,1035.1 1658.7,1031.5 1676.5,1029.8 1726.3,1029.0 1747.6,1025.5 1761.8,1020.9 1770.0,1019.1 1770.9,1019.8 1787.3,1017.1 1814.7,1016.2 1831.1,1014.3 1842.0,1011.6 1853.0,1008.9 1859.8,1004.2 1869.4,1010.2 1880.3,1007.5 1891.2,1000.7 1902.2,999.3 1911.7,998.7 1918.6,1007.5 1926.8,1015.7 1940.5,1018.4 1956.9,1019.8 1978.7,1022.5 2000.6,1025.3 2015.6,1025.3 2023.8,1018.4 2033.4,1021.7 2047.1,1023.3 2058.0,1021.7 2069.0,1017.9 2088.1,1019.8 2115.4,1019.0 2142.8,1019.0 2161.9,1019.0" stroke="#e84a00" stroke-width="7" fill="none" stroke-linejoin="round"/>
</g>
<g clip-path="url(#cpc4)">
<polyline points="636.2,1674.3 659.4,1665.0 705.9,1652.5 752.4,1643.2 798.9,1635.7 845.4,1631.1 891.8,1626.9 938.3,1623.2 984.8,1619.9 1031.3,1618.1 1077.8,1617.1 1124.2,1616.2 1170.7,1615.7 1200.0,1615.3 1201.3,1616.5 1233.3,1615.9 1286.6,1613.3 1339.9,1607.9 1393.3,1602.6 1446.6,1594.6 1499.9,1586.6 1553.2,1575.9 1606.5,1561.5 1659.8,1543.9 1713.2,1522.6 1766.5,1497.6 1819.8,1466.6 1857.1,1442.6 1889.1,1421.3" stroke="#808080" stroke-width="7" fill="none" stroke-linejoin="round"/>
<polyline points="538.6,1764.9 561.8,1767.3 589.7,1765.9 599.0,1768.6 606.0,1760.3 613.0,1737.0 626.9,1736.1 640.8,1739.4 654.8,1751.0 668.7,1753.3 678.0,1741.7 687.3,1727.7 698.9,1725.4 705.9,1718.5 715.2,1699.9 724.5,1697.5 733.8,1699.9 743.1,1678.9 752.4,1674.3 771.0,1669.6 778.0,1660.4 784.9,1641.8 794.2,1635.7 808.2,1646.4 822.1,1644.1 836.1,1641.8 845.4,1639.4 857.0,1643.2 863.9,1597.6 873.2,1572.0 882.5,1581.3 894.2,1590.6 901.1,1581.3 915.1,1578.1 929.0,1581.3 938.3,1586.0 947.6,1590.6 956.9,1579.0 966.2,1575.3 975.5,1578.1 984.8,1583.7 994.1,1555.8 1003.4,1554.8 1017.3,1548.8 1031.3,1548.8 1045.2,1548.8 1054.5,1552.1 1068.5,1548.8 1082.4,1554.8 1096.3,1548.8 1110.3,1553.5 1124.2,1554.8 1142.8,1554.8 1152.1,1539.5 1161.4,1534.9 1170.7,1534.9 1180.0,1527.9 1189.3,1530.2 1201.3,1531.7 1209.3,1529.5 1214.7,1490.6 1222.7,1488.0 1233.3,1483.7 1244.0,1485.3 1254.6,1458.6 1265.3,1456.0 1276.0,1464.0 1286.6,1473.0 1302.6,1478.4 1321.3,1465.6 1334.6,1466.6 1355.9,1474.6 1379.9,1481.6 1387.9,1472.0 1395.9,1458.6 1409.3,1458.6 1425.3,1465.6 1441.2,1469.3 1451.9,1473.0 1478.6,1480.0 1486.6,1469.3 1494.6,1438.9 1515.9,1449.6 1531.9,1429.3 1547.9,1434.6 1558.5,1430.4 1574.5,1435.7 1595.9,1438.9 1617.2,1444.2 1627.9,1445.3 1635.9,1421.3 1643.9,1430.4 1654.5,1448.0 1665.2,1434.6 1681.2,1441.0 1694.5,1424.0 1707.8,1425.0 1713.2,1418.6 1718.5,1396.3 1729.2,1426.6 1739.8,1437.3 1755.8,1466.6 1769.1,1504.0 1782.5,1522.6 1798.5,1538.6 1814.5,1547.7 1822.5,1530.6 1830.5,1543.9 1846.5,1559.9 1867.8,1597.3 1881.1,1607.9 1905.1,1666.6 1918.4,1722.6 1926.4,1754.5 1934.4,1770.5" stroke="#0000c8" stroke-width="7" fill="none" stroke-linejoin="round"/>
<polygon points="623.9,1671.8 646.6,1671.8 646.6,1675.2 648.6,1677.2 637.7,1696.6 631.9,1696.6 621.0,1677.2 623.9,1675.2" fill="#141414"/><polygon points="629.8,1678.4 639.7,1678.4 634.8,1687.0" fill="#fff"/>
<polygon points="735.5,1616.0 758.2,1616.0 758.2,1619.4 760.2,1621.4 749.3,1640.8 743.5,1640.8 732.6,1621.4 735.5,1619.4" fill="#141414"/><polygon points="741.4,1622.6 751.3,1622.6 746.4,1631.2" fill="#fff"/>
<polygon points="773.1,1641.6 795.8,1641.6 795.8,1645.0 797.8,1647.0 786.9,1666.4 781.1,1666.4 770.2,1647.0 773.1,1645.0" fill="#141414"/><polygon points="779.0,1648.2 788.9,1648.2 784.0,1656.8" fill="#fff"/>
<polygon points="832.1,1620.7 854.8,1620.7 854.8,1624.1 856.8,1626.1 845.9,1645.5 840.1,1645.5 829.2,1626.1 832.1,1624.1" fill="#141414"/><polygon points="838.0,1627.3 847.9,1627.3 843.0,1635.9" fill="#fff"/>
<polygon points="884.7,1622.1 907.4,1622.1 907.4,1625.5 909.4,1627.5 898.5,1646.9 892.7,1646.9 881.8,1627.5 884.7,1625.5" fill="#141414"/><polygon points="890.6,1628.7 900.5,1628.7 895.6,1637.3" fill="#fff"/>
<polygon points="929.7,1610.0 952.4,1610.0 952.4,1613.4 954.4,1615.4 943.5,1634.8 937.7,1634.8 926.8,1615.4 929.7,1613.4" fill="#141414"/><polygon points="935.6,1616.6 945.5,1616.6 940.6,1625.2" fill="#fff"/>
<polygon points="990.2,1599.8 1012.9,1599.8 1012.9,1603.2 1014.9,1605.2 1004.0,1624.6 998.2,1624.6 987.3,1605.2 990.2,1603.2" fill="#141414"/><polygon points="996.1,1606.4 1006.0,1606.4 1001.1,1615.0" fill="#fff"/>
<polygon points="1034.3,1604.4 1057.0,1604.4 1057.0,1607.8 1059.0,1609.8 1048.1,1629.2 1042.3,1629.2 1031.4,1609.8 1034.3,1607.8" fill="#141414"/><polygon points="1040.2,1611.0 1050.1,1611.0 1045.2,1619.6" fill="#fff"/>
<polygon points="1152.8,1601.1 1175.5,1601.1 1175.5,1604.5 1177.5,1606.5 1166.6,1625.9 1160.8,1625.9 1149.9,1606.5 1152.8,1604.5" fill="#141414"/><polygon points="1158.7,1607.7 1168.6,1607.7 1163.7,1616.3" fill="#fff"/>
<polygon points="1198.4,1606.8 1221.1,1606.8 1221.1,1610.2 1223.1,1612.2 1212.2,1631.6 1206.4,1631.6 1195.5,1612.2 1198.4,1610.2" fill="#141414"/><polygon points="1204.3,1613.4 1214.2,1613.4 1209.3,1622.0" fill="#fff"/>
<polygon points="1257.1,1619.0 1279.8,1619.0 1279.8,1622.4 1281.8,1624.4 1270.9,1643.8 1265.1,1643.8 1254.2,1624.4 1257.1,1622.4" fill="#141414"/><polygon points="1263.0,1625.6 1272.9,1625.6 1268.0,1634.2" fill="#fff"/>
<polygon points="1369.0,1582.8 1391.7,1582.8 1391.7,1586.2 1393.7,1588.2 1382.8,1607.6 1377.0,1607.6 1366.1,1588.2 1369.0,1586.2" fill="#141414"/><polygon points="1374.9,1589.4 1384.8,1589.4 1379.9,1598.0" fill="#fff"/>
<polygon points="1406.4,1593.5 1429.1,1593.5 1429.1,1596.9 1431.1,1598.9 1420.2,1618.3 1414.4,1618.3 1403.5,1598.9 1406.4,1596.9" fill="#141414"/><polygon points="1412.3,1600.1 1422.2,1600.1 1417.3,1608.7" fill="#fff"/>
<polygon points="1481.0,1601.5 1503.7,1601.5 1503.7,1604.9 1505.7,1606.9 1494.8,1626.3 1489.0,1626.3 1478.1,1606.9 1481.0,1604.9" fill="#141414"/><polygon points="1486.9,1608.1 1496.8,1608.1 1491.9,1616.7" fill="#fff"/>
<polygon points="1505.0,1577.5 1527.7,1577.5 1527.7,1580.9 1529.7,1582.9 1518.8,1602.3 1513.0,1602.3 1502.1,1582.9 1505.0,1580.9" fill="#141414"/><polygon points="1510.9,1584.1 1520.8,1584.1 1515.9,1592.7" fill="#fff"/>
<polygon points="1513.0,1582.8 1535.7,1582.8 1535.7,1586.2 1537.7,1588.2 1526.8,1607.6 1521.0,1607.6 1510.1,1588.2 1513.0,1586.2" fill="#141414"/><polygon points="1518.9,1589.4 1528.8,1589.4 1523.9,1598.0" fill="#fff"/>
<polygon points="1563.6,1580.1 1586.3,1580.1 1586.3,1583.5 1588.3,1585.5 1577.4,1604.9 1571.6,1604.9 1560.7,1585.5 1563.6,1583.5" fill="#141414"/><polygon points="1569.5,1586.7 1579.4,1586.7 1574.5,1595.3" fill="#fff"/>
<polygon points="1617.0,1539.1 1639.7,1539.1 1639.7,1542.5 1641.7,1544.5 1630.8,1563.9 1625.0,1563.9 1614.1,1544.5 1617.0,1542.5" fill="#141414"/><polygon points="1622.9,1545.7 1632.8,1545.7 1627.9,1554.3" fill="#fff"/>
<polygon points="1668.7,1519.9 1691.4,1519.9 1691.4,1523.3 1693.4,1525.3 1682.5,1544.7 1676.7,1544.7 1665.8,1525.3 1668.7,1523.3" fill="#141414"/><polygon points="1674.6,1526.5 1684.5,1526.5 1679.6,1535.1" fill="#fff"/>
<polygon points="1781.2,1407.9 1803.9,1407.9 1803.9,1411.3 1805.9,1413.3 1795.0,1432.7 1789.2,1432.7 1778.3,1413.3 1781.2,1411.3" fill="#141414"/><polygon points="1787.1,1414.5 1797.0,1414.5 1792.1,1423.1" fill="#fff"/>
<polygon points="1824.9,1448.4 1847.6,1448.4 1847.6,1451.8 1849.6,1453.8 1838.7,1473.2 1832.9,1473.2 1822.0,1453.8 1824.9,1451.8" fill="#141414"/><polygon points="1830.8,1455.0 1840.7,1455.0 1835.8,1463.6" fill="#fff"/>
<polygon points="1878.2,1448.4 1900.9,1448.4 1900.9,1451.8 1902.9,1453.8 1892.0,1473.2 1886.2,1473.2 1875.3,1453.8 1878.2,1451.8" fill="#141414"/><polygon points="1884.1,1455.0 1894.0,1455.0 1889.1,1463.6" fill="#fff"/>
</g>
<g clip-path="url(#cpd1)">
<polyline points="308.7,2489.3 313.0,2487.3" stroke="#00cd00" stroke-width="9" fill="none" stroke-linejoin="round"/>
<polyline points="317.3,2480.7 320.8,2479.3" stroke="#00cd00" stroke-width="9" fill="none" stroke-linejoin="round"/>
<polyline points="325.1,2446.3 325.4,2462.6" stroke="#00cd00" stroke-width="9" fill="none" stroke-linejoin="round"/>
<polyline points="335.1,2483.6 338.9,2485.6" stroke="#00cd00" stroke-width="9" fill="none" stroke-linejoin="round"/>
<polyline points="317.3,2488.5 320.2,2485.0" stroke="#eb0000" stroke-width="9" fill="none" stroke-linejoin="round"/>
<polyline points="324.5,2469.2 325.9,2479.3" stroke="#eb0000" stroke-width="9" fill="none" stroke-linejoin="round"/>
<polyline points="333.1,2482.2 337.4,2487.0" stroke="#eb0000" stroke-width="9" fill="none" stroke-linejoin="round"/>
<polyline points="307.8,2495.1 313.0,2496.5 317.3,2499.4 321.6,2493.6 324.5,2487.9 328.8,2486.5 331.7,2487.9" stroke="#0000d2" stroke-width="9" fill="none" stroke-linejoin="round"/>
<polyline points="334.5,2502.8 343.2,2502.8" stroke="#0000d2" stroke-width="9" fill="none" stroke-linejoin="round"/>
<polyline points="544.1,2414.7 549.9,2416.1 554.2,2421.9 557.0,2450.6 559.9,2479.3 562.8,2430.5 567.1,2430.5 568.5,2462.1" stroke="#00cd00" stroke-width="9" fill="none" stroke-linejoin="round"/>
<polyline points="577.1,2391.7 580.0,2393.2 582.9,2447.7 588.6,2447.7 591.5,2476.4 595.8,2464.9 600.1,2464.9 604.4,2479.3 607.3,2495.1 613.0,2479.3 620.2,2430.5 624.5,2387.4 627.4,2370.2" stroke="#00cd00" stroke-width="9" fill="none" stroke-linejoin="round"/>
<polyline points="544.1,2456.3 551.3,2456.3 555.6,2467.8 559.9,2490.8" stroke="#eb0000" stroke-width="9" fill="none" stroke-linejoin="round"/>
<polyline points="577.1,2453.4 584.3,2479.3 590.1,2470.7 595.8,2470.7 601.5,2473.5 607.3,2502.3" stroke="#eb0000" stroke-width="9" fill="none" stroke-linejoin="round"/>
<polyline points="544.1,2460.6 549.9,2464.9 555.6,2479.3 559.9,2496.5 564.2,2495.1 567.1,2464.9" stroke="#0000d2" stroke-width="9" fill="none" stroke-linejoin="round"/>
<polygon points="578.0,2447.7 584.3,2450.6 588.6,2499.4 595.8,2501.7 604.4,2501.7 613.0,2482.2 621.6,2456.3 625.9,2429.0 629.7,2429.0 627.4,2453.4 618.8,2485.0 610.1,2504.3 578.6,2504.3" fill="#0000d2" stroke="#0000d2" stroke-width="2" stroke-linejoin="round"/>
<polyline points="628.8,2358.7 638.9,2361.0 653.2,2363.0 667.6,2370.2 681.9,2377.4 700.0,2383.1" stroke="#00cd00" stroke-width="9" fill="none" stroke-linejoin="round"/>
<polyline points="627.4,2424.7 638.9,2423.3 653.2,2424.7 667.6,2429.0 681.9,2430.5 700.0,2433.4" stroke="#eb0000" stroke-width="9" fill="none" stroke-linejoin="round"/>
<polyline points="628.8,2437.7 641.7,2440.5 653.2,2443.4 667.6,2447.7 681.9,2452.0 700.0,2454.9" stroke="#0000d2" stroke-width="9" fill="none" stroke-linejoin="round"/>
<polyline points="700.9,2380.6 719.5,2379.2" stroke="#00cd00" stroke-width="9" fill="none" stroke-linejoin="round"/>
<polyline points="726.5,2382.5 745.1,2376.9 773.0,2377.8 789.2,2372.3 805.5,2379.2 828.7,2381.6 847.3,2388.5 865.9,2386.2 884.5,2388.5 912.4,2385.3 940.3,2387.1 968.2,2387.1 996.1,2381.6 1014.7,2383.9 1033.2,2390.8 1051.8,2391.8 1070.4,2388.5 1089.0,2381.6" stroke="#00cd00" stroke-width="9" fill="none" stroke-linejoin="round"/>
<polyline points="1096.0,2377.8 1112.3,2376.9 1130.8,2369.9 1144.8,2374.6 1163.4,2371.3 1182.0,2365.3 1200.6,2368.5 1219.2,2363.0 1237.8,2360.6 1261.0,2353.7 1284.2,2342.0 1300.5,2337.4" stroke="#00cd00" stroke-width="9" fill="none" stroke-linejoin="round"/>
<polyline points="1316.8,2348.1 1340.0,2353.7 1360.0,2356.0" stroke="#00cd00" stroke-width="9" fill="none" stroke-linejoin="round"/>
<polyline points="700.9,2432.7 717.2,2433.6" stroke="#eb0000" stroke-width="9" fill="none" stroke-linejoin="round"/>
<polyline points="728.8,2435.0 740.4,2432.7 759.0,2430.4 782.3,2432.7 810.1,2437.3 833.4,2442.9 856.6,2447.6 884.5,2448.9 912.4,2451.3 940.3,2453.6 968.2,2455.0 996.1,2455.9 1023.9,2458.2 1051.8,2457.3 1089.0,2455.0" stroke="#eb0000" stroke-width="9" fill="none" stroke-linejoin="round"/>
<polyline points="1096.0,2448.9 1116.9,2444.3 1135.5,2441.0 1163.4,2437.3 1182.0,2435.0 1200.6,2438.3 1223.8,2439.6 1237.8,2442.9 1261.0,2442.9 1284.2,2437.3 1298.2,2433.6" stroke="#eb0000" stroke-width="9" fill="none" stroke-linejoin="round"/>
<polyline points="1316.8,2445.7 1340.0,2448.0 1360.0,2449.4" stroke="#eb0000" stroke-width="9" fill="none" stroke-linejoin="round"/>
<polyline points="700.9,2452.2 719.5,2451.3" stroke="#0000d2" stroke-width="9" fill="none" stroke-linejoin="round"/>
<polyline points="726.5,2450.3 745.1,2446.6 763.7,2450.3 782.3,2448.9 791.6,2442.0 805.5,2446.6 819.4,2447.6 838.0,2447.6 856.6,2444.3 875.2,2446.6 893.8,2445.7 912.4,2439.6 940.3,2437.3 968.2,2435.0 996.1,2430.4 1014.7,2432.7 1033.2,2437.3 1051.8,2436.4 1075.1,2437.3 1091.3,2431.7" stroke="#0000d2" stroke-width="9" fill="none" stroke-linejoin="round"/>
<polyline points="1096.0,2432.7 1112.3,2437.3 1130.8,2433.6 1144.8,2438.3 1163.4,2435.0 1182.0,2439.6 1200.6,2435.0 1219.2,2430.4 1237.8,2423.4 1261.0,2417.8 1284.2,2408.5 1298.2,2405.7" stroke="#0000d2" stroke-width="9" fill="none" stroke-linejoin="round"/>
<polyline points="1316.8,2405.7 1340.0,2410.4 1360.0,2411.8" stroke="#0000d2" stroke-width="9" fill="none" stroke-linejoin="round"/>
<polyline points="1361.2,2356.5 1373.9,2349.3 1403.6,2338.7 1424.8,2331.0 1450.2,2323.8 1467.1,2322.6 1479.8,2328.1 1501.0,2331.0 1518.0,2329.3 1539.2,2323.8 1556.1,2325.9 1577.3,2325.9 1594.3,2319.6 1611.2,2312.4 1628.2,2304.8 1636.6,2300.5" stroke="#00cd00" stroke-width="9" fill="none" stroke-linejoin="round"/>
<polygon points="1630.3,2302.6 1638.8,2300.5 1640.9,2317.5 1647.2,2313.2 1653.6,2315.4 1655.7,2457.3 1662.1,2478.5 1670.6,2474.3 1679.0,2487.0 1687.5,2478.5 1691.7,2402.2 1698.1,2393.8 1704.5,2393.8 1708.7,2444.6 1712.9,2457.3 1717.2,2482.7 1721.4,2448.8 1729.9,2440.4 1736.2,2368.3 1742.6,2366.2 1749.0,2366.2 1751.1,2338.7 1757.4,2336.5 1759.5,2470.0 1768.0,2474.3 1772.3,2389.5 1780.7,2368.3 1782.9,2351.4 1787.1,2351.4 1791.3,2410.7 1795.6,2330.2 1797.7,2258.1 1801.9,2258.1 1804.0,2228.5 1810.4,2228.5 1812.5,2474.3 1816.8,2474.3 1818.9,2298.4 1825.2,2298.4 1827.4,2325.9 1831.6,2328.1 1835.8,2359.8 1840.1,2359.8 1842.2,2408.6 1846.4,2410.7 1848.5,2470.0 1852.8,2474.3 1861.3,2461.6 1865.5,2461.6 1874.0,2455.2 1880.3,2461.6 1884.6,2474.3 1890.9,2482.7 1895.2,2465.8 1903.6,2464.9 1912.1,2470.0 1920.6,2476.4 1920.6,2497.6 1630.3,2497.6" fill="#00cd00" stroke="#00cd00" stroke-width="2" stroke-linejoin="round"/>
<polyline points="1361.2,2411.5 1373.9,2406.5 1403.6,2393.8 1424.8,2386.1 1445.9,2380.2 1467.1,2378.9 1479.8,2389.5 1501.0,2393.8 1526.5,2392.9 1543.4,2390.4 1568.8,2393.8 1594.3,2385.3 1615.5,2376.8 1632.4,2370.4 1636.6,2368.3" stroke="#0000d2" stroke-width="9" fill="none" stroke-linejoin="round"/>
<polygon points="1630.3,2370.4 1636.6,2366.2 1638.8,2389.5 1643.0,2378.9 1653.6,2378.9 1655.7,2491.2 1691.7,2491.2 1693.9,2448.8 1704.5,2436.1 1708.7,2457.3 1715.0,2491.2 1721.4,2474.3 1727.8,2444.6 1736.2,2410.7 1749.0,2406.5 1751.1,2383.2 1757.4,2383.2 1759.5,2474.3 1768.0,2482.7 1774.4,2412.8 1780.7,2395.9 1787.1,2398.0 1791.3,2436.1 1795.6,2321.7 1804.0,2311.1 1810.4,2311.1 1812.5,2478.5 1816.8,2487.0 1818.9,2364.1 1825.2,2364.1 1827.4,2381.0 1831.6,2383.2 1835.8,2402.2 1840.1,2406.5 1842.2,2444.6 1846.4,2448.8 1848.5,2487.0 1861.3,2478.5 1874.0,2482.7 1882.4,2491.2 1890.9,2491.2 1899.4,2482.7 1907.9,2482.7 1920.6,2489.1 1920.6,2499.7 1630.3,2499.7" fill="#0000d2" stroke="#0000d2" stroke-width="2" stroke-linejoin="round"/>
<polyline points="1361.2,2449.7 1382.4,2451.0 1403.6,2448.8 1424.8,2448.8 1450.2,2448.0 1467.1,2444.6 1488.3,2441.2 1509.5,2439.5 1534.9,2438.2 1560.4,2437.0 1585.8,2437.0 1611.2,2438.2 1628.2,2438.2 1632.4,2440.4 1634.5,2451.0 1636.6,2495.5 1657.8,2497.6 1679.0,2499.7 1700.2,2497.6 1721.4,2497.6 1742.6,2495.5 1763.8,2493.3 1785.0,2494.6 1806.2,2493.3 1827.4,2493.3 1848.5,2494.6 1865.5,2487.0 1874.0,2480.6 1882.4,2482.7 1890.9,2484.9 1899.4,2487.0 1907.9,2489.1 1920.6,2487.8" stroke="#eb0000" stroke-width="9" fill="none" stroke-linejoin="round"/>
</g>
<g clip-path="url(#cpd2)">
<polyline points="231.0,2923.1 244.1,2921.5 257.2,2918.2 270.4,2916.5 283.5,2918.2 296.6,2918.2 309.7,2914.9 322.9,2913.3 329.4,2916.5 336.0,2923.1 339.3,2910.0 340.9,2814.8 347.5,2800.1 355.7,2805.0 362.2,2813.2 368.8,2821.4 373.7,2854.2 381.9,2831.2 391.8,2832.9 396.7,2837.8 398.3,2854.2" stroke="#00cd00" stroke-width="9" fill="none" stroke-linejoin="round"/>
<polyline points="231.0,2914.9 244.1,2913.3 257.2,2911.6 270.4,2898.5 276.9,2911.6 290.1,2913.3 303.2,2913.3 316.3,2910.0 329.4,2910.0 336.0,2913.3 339.3,2910.0 344.2,2890.3 352.4,2886.4 362.2,2890.3 368.8,2893.6 375.4,2900.1 381.9,2896.9 391.8,2894.2 398.3,2898.5" stroke="#eb0000" stroke-width="8" fill="none" stroke-linejoin="round"/>
<polyline points="231.0,2910.0 244.1,2906.7 257.2,2905.1 270.4,2906.7 283.5,2905.1 296.6,2906.0 309.7,2904.1 322.9,2902.8 334.3,2905.1 337.6,2896.9 340.9,2828.0 349.1,2818.1 355.7,2819.8 362.2,2831.2 367.2,2837.8 373.7,2860.8 381.9,2844.4 391.8,2841.1 398.3,2857.5" stroke="#0000d2" stroke-width="9" fill="none" stroke-linejoin="round"/>
<polyline points="422.3,2862.4 422.3,2868.0" stroke="#0000d2" stroke-width="3" fill="none" stroke-linejoin="round"/>
<polyline points="431.1,2864.0 432.8,2869.0" stroke="#0000d2" stroke-width="4" fill="none" stroke-linejoin="round"/>
<polyline points="422.3,2899.5 422.3,2905.1" stroke="#eb0000" stroke-width="3" fill="none" stroke-linejoin="round"/>
<polyline points="431.1,2900.1 431.8,2904.1" stroke="#eb0000" stroke-width="3" fill="none" stroke-linejoin="round"/>
<polyline points="434.4,2896.9 437.7,2936.2 447.5,2939.5 454.1,2926.4 457.4,2929.7" stroke="#00cd00" stroke-width="10" fill="none" stroke-linejoin="round"/>
<polyline points="433.8,2880.4 437.7,2883.7 441.0,2910.0 445.9,2901.8 449.2,2929.7 454.1,2896.9 457.4,2895.2" stroke="#0000d2" stroke-width="11" fill="none" stroke-linejoin="round"/>
<polyline points="453.4,2935.6 457.4,2935.6" stroke="#eb0000" stroke-width="5" fill="none" stroke-linejoin="round"/>
<polyline points="669.0,2713.1 683.8,2716.4 696.9,2723.0 711.0,2732.8" stroke="#00cd00" stroke-width="11" fill="none" stroke-linejoin="round"/>
<polyline points="669.0,2734.4 683.8,2736.1 696.9,2742.7 706.7,2759.1" stroke="#0000d2" stroke-width="11" fill="none" stroke-linejoin="round"/>
<polyline points="669.0,2879.8 690.3,2882.1 711.0,2885.4" stroke="#eb0000" stroke-width="8" fill="none" stroke-linejoin="round"/>
<polyline points="698.3,2733.3 710.2,2740.5 717.4,2738.1" stroke="#00cd00" stroke-width="11" fill="none" stroke-linejoin="round"/>
<polyline points="724.6,2738.1 746.1,2733.3 765.3,2730.9 774.8,2730.9 784.4,2718.9 803.5,2716.6 813.1,2711.8 832.2,2707.0 841.8,2709.4 851.4,2721.3 861.0,2716.6 868.1,2714.2 872.9,2745.3 884.9,2752.4 894.4,2757.2 904.0,2745.3 913.6,2735.7 927.9,2733.3 942.3,2742.9 956.7,2735.7 975.8,2730.9 990.1,2716.6 1004.5,2711.8 1023.6,2718.9 1042.8,2714.2 1061.9,2702.2 1071.5,2699.8 1076.3,2709.4 1083.4,2699.8 1090.6,2711.8 1097.8,2718.9" stroke="#00cd00" stroke-width="11" fill="none" stroke-linejoin="round"/>
<polyline points="1105.0,2723.7 1114.5,2728.5 1124.1,2726.1 1133.7,2742.9 1143.3,2726.1 1157.6,2716.6 1172.0,2709.4 1186.3,2702.2 1200.7,2709.4 1215.0,2721.3 1227.0,2733.3 1234.2,2716.6 1253.3,2699.8 1267.7,2707.0 1282.0,2716.6 1291.6,2711.8 1301.1,2707.0 1310.7,2711.8" stroke="#00cd00" stroke-width="11" fill="none" stroke-linejoin="round"/>
<polyline points="698.3,2745.3 707.8,2757.2 717.4,2754.8" stroke="#0000d2" stroke-width="11" fill="none" stroke-linejoin="round"/>
<polyline points="724.6,2754.8 736.6,2762.0 746.1,2766.8 765.3,2769.2 774.8,2762.0 789.2,2754.8 803.5,2750.0 817.9,2742.9 832.2,2740.5 846.6,2745.3 856.2,2752.4 865.7,2742.9 870.5,2764.4 884.9,2774.0 894.4,2778.8 904.0,2771.6 913.6,2757.2 927.9,2757.2 942.3,2762.0 956.7,2757.2 975.8,2752.4 990.1,2740.5 1004.5,2733.3 1023.6,2735.7 1042.8,2733.3 1057.1,2723.7 1066.7,2716.6 1071.5,2735.7 1076.3,2718.9 1083.4,2718.9 1090.6,2738.1 1097.8,2747.7" stroke="#0000d2" stroke-width="11" fill="none" stroke-linejoin="round"/>
<polyline points="1105.0,2750.0 1114.5,2757.2 1124.1,2759.6 1133.7,2766.8 1143.3,2752.4 1157.6,2742.9 1176.7,2733.3 1188.7,2726.1 1200.7,2738.1 1215.0,2752.4 1227.0,2759.6 1238.9,2740.5 1253.3,2728.5 1267.7,2735.7 1282.0,2747.7 1291.6,2742.9 1301.1,2735.7 1310.7,2742.9" stroke="#0000d2" stroke-width="11" fill="none" stroke-linejoin="round"/>
<polyline points="688.7,2881.6 707.8,2884.0 717.4,2884.0" stroke="#eb0000" stroke-width="8" fill="none" stroke-linejoin="round"/>
<polyline points="727.0,2885.0 734.2,2884.0 736.6,2868.7 755.7,2869.7 774.8,2867.3 789.2,2864.9 813.1,2868.7 832.2,2870.6 851.4,2873.5 865.7,2876.8 880.1,2879.2 884.9,2884.0 899.2,2881.6 927.9,2883.1 956.7,2881.6 985.4,2879.2 1014.1,2879.2 1033.2,2884.0 1052.3,2886.4 1071.5,2884.0 1090.6,2879.2 1097.8,2874.4" stroke="#eb0000" stroke-width="8" fill="none" stroke-linejoin="round"/>
<polyline points="1107.4,2879.2 1119.3,2876.8 1138.5,2876.8 1167.2,2876.8 1195.9,2876.8 1234.2,2875.4 1272.4,2873.5 1310.7,2873.5" stroke="#eb0000" stroke-width="8" fill="none" stroke-linejoin="round"/>
<polyline points="1343.4,2680.6 1360.5,2680.6 1381.0,2677.2 1394.7,2670.4 1404.9,2658.4 1415.2,2656.7 1428.9,2651.6 1442.5,2656.7 1456.2,2648.2 1469.9,2658.4 1483.5,2677.2 1497.2,2667.0 1510.9,2660.1 1524.6,2658.4 1538.2,2663.5 1551.9,2663.5 1558.7,2667.0 1572.4,2658.4 1586.1,2653.3 1599.7,2648.2 1613.4,2637.9 1620.2,2649.9 1630.5,2648.2 1632.2,2677.2" stroke="#00cd00" stroke-width="11" fill="none" stroke-linejoin="round"/>
<polygon points="1630.5,2677.2 1639.0,2680.6 1640.8,2718.2 1644.2,2803.7 1647.6,2731.9 1652.7,2731.9 1654.4,2909.6 1661.3,2909.6 1668.1,2909.6 1676.6,2909.6 1681.8,2923.3 1688.6,2899.4 1692.0,2725.1 1697.1,2721.6 1698.9,2709.7 1705.7,2709.7 1707.4,2793.4 1710.8,2793.4 1715.9,2899.4 1722.8,2909.6 1729.6,2742.1 1734.7,2742.1 1736.4,2648.2 1743.3,2648.2 1748.4,2649.9 1751.8,2588.4 1758.7,2588.4 1760.4,2892.5 1770.6,2895.9 1774.0,2590.1 1780.9,2590.1 1784.3,2550.8 1789.4,2550.8 1791.1,2714.8 1794.5,2714.8 1796.3,2528.5 1803.1,2528.5 1804.8,2731.9 1808.2,2731.9 1806.5,2913.0 1799.7,2940.4 1794.5,2940.4 1784.3,2906.2 1770.6,2899.4 1760.4,2895.9 1722.8,2911.3 1715.9,2902.8 1688.6,2902.8 1683.5,2940.4 1676.6,2940.4 1668.1,2913.0 1657.8,2913.0 1654.4,2940.4 1637.3,2940.4" fill="#00cd00" stroke="#00cd00" stroke-width="2" stroke-linejoin="round"/>
<polyline points="1343.4,2713.1 1360.5,2716.5 1381.0,2714.8 1394.7,2708.0 1408.4,2697.7 1425.4,2689.2 1442.5,2694.3 1456.2,2692.6 1469.9,2701.1 1483.5,2714.8 1497.2,2701.1 1510.9,2697.7 1524.6,2696.0 1538.2,2701.1 1551.9,2704.6 1558.7,2697.7 1572.4,2699.4 1586.1,2694.3 1599.7,2687.5 1613.4,2689.2 1627.1,2692.6 1630.5,2690.9" stroke="#0000d2" stroke-width="11" fill="none" stroke-linejoin="round"/>
<polygon points="1628.8,2690.9 1633.9,2690.9 1635.6,2721.6 1640.8,2721.6 1644.2,2810.5 1647.6,2730.2 1652.7,2730.2 1654.4,2813.9 1657.8,2899.4 1668.1,2901.1 1676.6,2902.8 1681.8,2923.3 1688.6,2906.2 1695.4,2725.1 1704.0,2723.3 1707.4,2796.8 1710.8,2796.8 1715.9,2902.8 1722.8,2906.2 1729.6,2752.4 1736.4,2670.4 1743.3,2672.1 1748.4,2673.8 1751.8,2624.2 1758.7,2624.2 1760.4,2889.1 1770.6,2895.9 1774.0,2620.8 1780.9,2598.6 1787.7,2596.9 1791.1,2725.1 1794.5,2725.1 1796.3,2588.4 1803.1,2588.4 1804.8,2738.7 1806.5,2906.2 1799.7,2926.7 1796.3,2940.4 1792.8,2926.7 1784.3,2902.8 1770.6,2902.8 1760.4,2899.4 1722.8,2906.2 1715.9,2904.5 1688.6,2906.2 1683.5,2926.7 1680.1,2940.4 1676.6,2926.7 1668.1,2904.5 1657.8,2904.5 1654.4,2923.3 1651.0,2940.4 1640.8,2940.4 1637.3,2930.1 1633.9,2786.6 1629.8,2759.2" fill="#0000d2" stroke="#0000d2" stroke-width="2" stroke-linejoin="round"/>
<polyline points="1343.4,2870.3 1360.5,2868.6 1381.0,2866.9 1404.9,2863.5 1425.4,2863.5 1452.8,2860.1 1457.9,2856.6 1463.0,2863.5 1483.5,2865.2 1510.9,2863.5 1538.2,2863.5 1551.9,2861.8 1558.7,2866.9 1572.4,2861.8 1592.9,2860.1 1606.6,2858.3 1611.7,2843.0 1616.8,2856.6 1630.5,2860.1 1633.9,2872.0" stroke="#eb0000" stroke-width="8" fill="none" stroke-linejoin="round"/>
<polyline points="1647.6,2906.2 1668.1,2906.2 1681.8,2882.3 1685.2,2892.5 1695.4,2899.4 1702.3,2895.9 1712.5,2902.8 1722.8,2904.5 1733.0,2906.2 1746.7,2906.2 1751.8,2875.4 1757.0,2902.8 1770.6,2904.5 1780.9,2878.9 1784.3,2899.4 1794.5,2902.8 1806.5,2895.9" stroke="#eb0000" stroke-width="7" fill="none" stroke-linejoin="round"/>
</g>
<g clip-path="url(#cpd3)">
<polyline points="231.0,3046.9 238.1,3057.5 245.2,3075.3 252.3,3064.6 259.4,3066.4 270.1,3077.1 280.8,3073.5 291.4,3075.3 312.7,3103.7 327.0,3119.7 334.1,3109.1 339.4,3112.6 350.1,3141.1 359.0,3135.7 371.4,3121.5 387.4,3203.3 394.5,3160.6 405.2,3151.7 412.3,3139.3 417.6,3116.2 424.7,3125.1" stroke="#00c8f0" stroke-width="7" fill="none" stroke-linejoin="round"/>
<polyline points="458.5,3100.2 472.7,3126.8 479.8,3139.3 490.5,3174.8 504.7,3091.3 511.8,3102.0 526.0,3151.7 533.1,3125.1 540.2,3141.1 554.4,3091.3 563.3,3110.8 572.2,3158.8 577.5,3100.2 586.4,3086.0 593.5,3093.1 607.8,3098.4 614.9,3123.3 622.0,3183.7 629.1,3224.6 638.0,3194.4 646.9,3229.9 654.0,3226.4 659.3,3176.6 671.7,3260.1 678.8,3245.9 696.6,3196.1 703.7,3137.5 717.9,3160.6 726.8,3171.3 741.0,3141.1 743.6,3140.4 754.2,3159.9 768.4,3161.7 779.1,3181.3 786.2,3282.6 795.1,3263.0 800.4,3213.3 807.5,3247.0 814.6,3239.9 828.9,3243.5 836.0,3216.8 844.9,3179.5 853.7,3209.7 860.8,3279.0 864.4,3181.3 868.0,3145.7 882.2,3108.4 892.8,3133.3 896.4,3136.8 903.5,3190.2 910.6,3170.6 917.7,3200.8 924.8,3179.5 935.5,3175.9 942.6,3165.3 949.7,3174.2 962.1,3167.1 971.0,3195.5 976.4,3174.2 985.2,3266.6 992.4,3270.1 1013.7,3136.8 1020.8,3170.6 1029.7,3133.3 1035.0,3172.4 1042.1,3168.8 1052.8,3193.7 1058.1,3266.6 1063.4,3263.0 1074.1,3204.4 1081.2,3227.5 1088.3,3120.8 1095.4,3110.2 1102.5,3113.7 1116.8,3136.8 1123.9,3145.7 1138.1,3147.5 1145.2,3159.9 1148.7,3209.7 1155.9,3218.6 1163.0,3197.3 1170.1,3255.9 1177.2,3273.7 1184.3,3259.5 1191.4,3223.9 1209.2,3113.7 1219.8,3113.0 1230.5,3170.6 1237.6,3165.3 1244.7,3213.3 1251.8,3209.7 1260.7,3191.9 1266.0,3152.8 1274.9,3110.2 1283.8,3097.7 1296.2,3106.6 1303.3,3135.1 1310.4,3138.6 1321.1,3213.3 1328.2,3236.4 1340.6,3236.4 1349.5,3216.8 1356.6,3204.4 1363.7,3186.6 1370.8,3191.9 1376.2,3215.0 1385.1,3170.6 1392.2,3213.3 1401.1,3259.5 1413.5,3261.2 1422.4,3273.7 1429.5,3248.8 1436.6,3186.6 1443.7,3186.6 1450.8,3206.1 1461.5,3174.2 1466.8,3163.5 1475.7,3122.6 1484.6,3124.4 1495.2,3136.8 1502.4,3177.7 1511.2,3158.2 1518.3,3184.8 1534.3,3133.3 1539.7,3126.2 1552.1,3140.4 1562.8,3131.5 1569.9,3135.1 1577.0,3154.6 1589.4,3156.4 1600.1,3175.9 1605.4,3163.5 1612.5,3131.5 1619.6,3126.2 1628.5,3122.6 1635.6,3083.5 1644.5,3081.7 1657.0,3088.9 1665.9,3083.5 1676.5,3087.1 1692.5,3085.3 1701.4,3071.1 1712.1,3085.3 1722.7,3087.1 1729.8,3083.5 1740.5,3088.9 1747.6,3090.6 1761.8,3081.0 1770.4,3082.3 1775.6,3082.3 1783.4,3081.0 1791.2,3092.7 1799.0,3090.1 1806.8,3064.1 1813.2,3051.1 1819.7,3066.7 1830.1,3064.1 1837.9,3065.4 1844.4,3079.7 1856.1,3065.4 1871.7,3055.0 1879.5,3027.7 1887.3,3001.8 1893.8,2982.3 1897.7,2994.0 1902.9,3035.5 1913.2,3030.3 1918.4,3008.2 1923.6,3010.8 1928.8,3032.9 1931.4,3060.2 1936.6,3032.9 1941.8,3006.9 1947.0,3008.2 1954.8,3031.6 1960.0,3004.4 1967.8,2983.6 1975.6,2969.3 1986.0,2962.8 1996.4,2960.2 2001.6,2965.4 2006.8,2971.9 2014.5,2970.6 2017.1,2991.4 2019.7,3019.9 2027.5,3031.6 2035.3,3012.1 2043.1,2992.7 2050.9,2994.0 2058.7,3000.5 2066.5,3022.5 2074.3,3048.5 2082.1,3058.9 2087.3,3030.3 2097.7,3016.0 2105.5,3010.8 2115.8,3025.1 2123.6,3035.5 2131.4,3021.2 2141.8,3003.1" stroke="#00c8f0" stroke-width="7" fill="none" stroke-linejoin="round"/>
<polyline points="231.0,3045.1 241.7,3054.0 252.3,3061.1 266.5,3065.4 280.8,3068.2 295.0,3071.7 309.2,3081.7 327.0,3086.0 337.6,3091.3 355.4,3109.1 373.2,3102.0 387.4,3107.3 408.7,3103.7 430.0,3100.2 451.4,3098.4 479.8,3098.4 501.1,3100.2 533.1,3098.4 568.7,3096.6 604.2,3096.6 622.0,3097.3 639.7,3103.7 652.2,3117.2 664.6,3113.7 682.4,3122.2 696.6,3121.5 707.3,3115.1 728.6,3111.6 746.4,3109.1 754.2,3110.9 779.1,3110.2 793.3,3115.5 811.1,3118.0 836.0,3124.4 853.7,3120.8 868.0,3120.1 882.2,3112.0 903.5,3110.2 924.8,3113.0 953.3,3113.0 988.8,3114.4 1010.1,3120.8 1024.3,3117.3 1045.7,3117.3 1059.9,3120.1 1074.1,3124.4 1088.3,3122.6 1109.6,3116.6 1123.9,3114.4 1148.7,3113.0 1177.2,3115.5 1202.1,3119.1 1216.3,3117.3 1237.6,3114.4 1251.8,3116.6 1260.7,3115.9 1278.4,3117.3 1303.3,3113.0 1324.6,3113.0 1356.6,3119.1 1392.2,3120.8 1409.9,3122.6 1434.8,3128.7 1463.3,3128.0 1491.7,3122.6 1520.1,3122.6 1552.1,3120.8 1584.1,3119.1 1605.4,3120.8 1626.8,3120.8 1641.0,3113.7 1658.7,3104.9 1673.0,3098.8 1712.1,3098.8 1747.6,3099.5 1770.0,3099.5 1770.4,3099.2 1786.0,3099.2 1804.2,3099.2 1822.3,3095.3 1835.3,3084.9 1843.1,3088.8 1858.7,3077.1 1874.3,3069.3 1884.7,3053.7 1892.5,3035.5 1900.3,3043.3 1909.4,3048.5 1918.4,3038.1 1926.2,3038.1 1931.4,3053.7 1936.6,3038.1 1947.0,3035.5 1957.4,3040.7 1967.8,3021.2 1983.4,3006.9 1999.0,2996.6 2009.4,2996.6 2013.2,2991.4 2017.1,2999.2 2022.3,3017.3 2027.5,3023.8 2040.5,3009.5 2050.9,3006.9 2058.7,3006.9 2069.1,3025.1 2079.5,3040.7 2087.3,3026.4 2102.9,3014.7 2110.6,3016.0 2123.6,3027.7 2134.0,3017.3 2141.8,3009.5" stroke="#a07a7a" stroke-width="7" fill="none" stroke-linejoin="round"/>
<polyline points="231.0,3052.2 238.1,3054.0 248.8,3059.3 259.4,3057.5 280.8,3062.9 302.1,3062.9 327.0,3062.9 334.1,3056.8 341.2,3062.9 351.8,3075.3 373.2,3076.0 408.7,3076.0 430.0,3073.5 451.4,3068.9 479.8,3068.2 497.6,3068.2 508.2,3062.9 522.5,3064.6 547.3,3064.6 556.2,3057.5 568.7,3062.9 579.3,3062.9 593.5,3057.5 607.8,3061.1 625.5,3062.9 639.7,3068.9 654.0,3077.1 675.3,3077.1 693.1,3078.1 728.6,3077.1 746.4,3077.1 754.2,3077.5 775.5,3076.4 811.1,3076.4 846.6,3078.2 882.2,3077.5 917.7,3076.4 988.8,3078.2 1059.9,3078.9 1095.4,3080.0 1131.0,3078.2 1202.1,3078.2 1251.8,3078.2 1260.7,3078.9 1356.6,3077.5 1463.3,3078.9 1569.9,3078.9 1641.0,3078.2 1662.3,3072.9 1673.0,3058.6 1687.2,3056.2 1697.8,3059.7 1712.1,3056.9 1733.4,3056.9 1747.6,3058.6 1761.8,3053.3 1770.0,3052.6 1770.4,3055.0 1778.2,3057.6 1799.0,3056.3 1811.9,3051.6 1824.9,3056.3 1850.9,3061.0 1863.9,3059.4 1889.9,3063.6 1915.8,3065.4 1941.8,3067.2 1967.8,3069.3 1993.8,3071.9 2009.4,3074.0 2019.7,3069.3 2032.7,3067.2 2058.7,3068.0 2092.5,3069.3 2102.9,3065.4 2118.4,3062.0 2128.8,3060.2 2141.8,3061.5" stroke="#e84a00" stroke-width="7" fill="none" stroke-linejoin="round"/>
</g>
<g clip-path="url(#cpd4)">
<polyline points="428.7,3696.4 495.7,3684.4 591.4,3672.4 687.1,3665.3 782.8,3660.5 878.5,3656.7 1080.0,3649.7 1134.7,3649.7 1189.4,3646.9 1244.0,3641.5 1298.7,3636.0 1353.4,3630.5 1408.1,3623.4 1462.8,3615.8 1517.4,3605.9 1572.1,3593.9 1626.8,3579.7 1681.5,3563.3 1736.2,3544.7 1790.8,3526.6 1815.5,3517.3" stroke="#808080" stroke-width="7" fill="none" stroke-linejoin="round"/>
<polyline points="313.5,3798.8 323.4,3794.8 329.4,3796.8 335.3,3806.7 345.2,3802.8 363.1,3792.9 371.0,3767.1 377.0,3759.1 392.9,3763.1 404.8,3765.1 412.7,3757.1 422.6,3749.2" stroke="#0000c8" stroke-width="7" fill="none" stroke-linejoin="round"/>
<polyline points="459.8,3691.6 471.8,3696.4 488.5,3702.6 498.1,3696.4 510.0,3699.7 524.4,3691.6 538.8,3683.4 548.3,3682.0 557.9,3686.8 565.1,3694.0 577.0,3694.0 591.4,3710.7 603.3,3717.9 617.7,3710.7 634.4,3710.7 651.2,3713.1 660.8,3682.0 677.5,3682.0 691.9,3684.4 711.0,3674.8 725.4,3653.3 744.5,3643.7 763.6,3634.2 778.0,3629.4 792.3,3636.6 811.5,3638.9 830.6,3641.3 840.2,3629.4 852.2,3600.7 859.3,3602.1 873.7,3581.5 883.3,3562.4 902.4,3572.0 916.7,3579.1 931.1,3574.4 940.7,3560.0 955.0,3564.8 974.2,3572.0 998.1,3574.4 1022.0,3575.3 1026.8,3567.2 1041.1,3569.6 1060.3,3572.0 1074.6,3560.0 1080.0,3551.2 1090.9,3532.1 1101.9,3515.7 1112.8,3502.0 1123.7,3491.1 1134.7,3477.4 1145.6,3488.4 1162.0,3496.6 1173.0,3503.1 1189.4,3504.8 1205.8,3504.8 1216.7,3510.2 1227.6,3506.4 1244.0,3511.9 1260.4,3511.9 1274.1,3502.0 1282.3,3471.9 1287.8,3471.9 1296.0,3491.1 1304.2,3495.5 1312.4,3486.7 1331.5,3488.4 1342.5,3493.8 1353.4,3482.9 1361.6,3474.7 1380.7,3479.1 1408.1,3484.5 1430.0,3482.9 1451.8,3486.7 1473.7,3486.7 1501.0,3488.4 1517.4,3482.9 1533.8,3484.5 1555.7,3488.4 1583.1,3486.7 1610.4,3488.4 1621.3,3491.1 1629.5,3490.0 1637.7,3496.6 1651.4,3510.2 1665.1,3537.6 1681.5,3564.9 1695.2,3595.0 1714.3,3608.6 1736.2,3627.8 1752.6,3636.0 1763.5,3649.7 1777.2,3666.1 1796.3,3677.0 1812.7,3709.8 1823.7,3726.2 1840.1,3753.6 1851.0,3775.4 1859.2,3797.3" stroke="#0000c8" stroke-width="7" fill="none" stroke-linejoin="round"/>
<polygon points="416.4,3701.3 439.1,3701.3 439.1,3704.7 441.1,3706.7 430.2,3726.1 424.4,3726.1 413.5,3706.7 416.4,3704.7" fill="#141414"/><polygon points="422.3,3707.9 432.2,3707.9 427.3,3716.5" fill="#fff"/>
<polygon points="459.4,3687.0 482.1,3687.0 482.1,3690.4 484.1,3692.4 473.2,3711.8 467.4,3711.8 456.5,3692.4 459.4,3690.4" fill="#141414"/><polygon points="465.3,3693.6 475.2,3693.6 470.3,3702.2" fill="#fff"/>
<polygon points="511.1,3664.5 533.8,3664.5 533.8,3667.9 535.8,3669.9 524.9,3689.3 519.1,3689.3 508.2,3669.9 511.1,3667.9" fill="#141414"/><polygon points="517.0,3671.1 526.9,3671.1 522.0,3679.7" fill="#fff"/>
<polygon points="563.7,3646.3 586.4,3646.3 586.4,3649.7 588.4,3651.7 577.5,3671.1 571.7,3671.1 560.8,3651.7 563.7,3649.7" fill="#141414"/><polygon points="569.6,3652.9 579.5,3652.9 574.6,3661.5" fill="#fff"/>
<polygon points="667.6,3626.2 690.3,3626.2 690.3,3629.6 692.3,3631.6 681.4,3651.0 675.6,3651.0 664.7,3631.6 667.6,3629.6" fill="#141414"/><polygon points="673.5,3632.8 683.4,3632.8 678.5,3641.4" fill="#fff"/>
<polygon points="726.4,3643.9 749.1,3643.9 749.1,3647.3 751.1,3649.3 740.2,3668.7 734.4,3668.7 723.5,3649.3 726.4,3647.3" fill="#141414"/><polygon points="732.3,3650.5 742.2,3650.5 737.3,3659.1" fill="#fff"/>
<polygon points="770.4,3660.6 793.1,3660.6 793.1,3664.0 795.1,3666.0 784.2,3685.4 778.4,3685.4 767.5,3666.0 770.4,3664.0" fill="#141414"/><polygon points="776.3,3667.2 786.2,3667.2 781.3,3675.8" fill="#fff"/>
<polygon points="837.4,3677.4 860.1,3677.4 860.1,3680.8 862.1,3682.8 851.2,3702.2 845.4,3702.2 834.5,3682.8 837.4,3680.8" fill="#141414"/><polygon points="843.3,3684.0 853.2,3684.0 848.3,3692.6" fill="#fff"/>
<polygon points="889.1,3667.8 911.8,3667.8 911.8,3671.2 913.8,3673.2 902.9,3692.6 897.1,3692.6 886.2,3673.2 889.1,3671.2" fill="#141414"/><polygon points="895.0,3674.4 904.9,3674.4 900.0,3683.0" fill="#fff"/>
<polygon points="925.0,3643.9 947.7,3643.9 947.7,3647.3 949.7,3649.3 938.8,3668.7 933.0,3668.7 922.1,3649.3 925.0,3647.3" fill="#141414"/><polygon points="930.9,3650.5 940.8,3650.5 935.9,3659.1" fill="#fff"/>
<polygon points="977.6,3661.6 1000.3,3661.6 1000.3,3665.0 1002.3,3667.0 991.4,3686.4 985.6,3686.4 974.7,3667.0 977.6,3665.0" fill="#141414"/><polygon points="983.5,3668.2 993.4,3668.2 988.5,3676.8" fill="#fff"/>
<polygon points="1028.8,3622.4 1051.5,3622.4 1051.5,3625.8 1053.5,3627.8 1042.6,3647.2 1036.8,3647.2 1025.9,3627.8 1028.8,3625.8" fill="#141414"/><polygon points="1034.7,3629.0 1044.6,3629.0 1039.7,3637.6" fill="#fff"/>
<polygon points="1081.1,3651.5 1103.8,3651.5 1103.8,3654.9 1105.8,3656.9 1094.9,3676.3 1089.1,3676.3 1078.2,3656.9 1081.1,3654.9" fill="#141414"/><polygon points="1087.0,3658.1 1096.9,3658.1 1092.0,3666.7" fill="#fff"/>
<polygon points="1133.1,3642.2 1155.8,3642.2 1155.8,3645.6 1157.8,3647.6 1146.9,3667.0 1141.1,3667.0 1130.2,3647.6 1133.1,3645.6" fill="#141414"/><polygon points="1139.0,3648.8 1148.9,3648.8 1144.0,3657.4" fill="#fff"/>
<polygon points="1183.9,3645.0 1206.6,3645.0 1206.6,3648.4 1208.6,3650.4 1197.7,3669.8 1191.9,3669.8 1181.0,3650.4 1183.9,3648.4" fill="#141414"/><polygon points="1189.8,3651.6 1199.7,3651.6 1194.8,3660.2" fill="#fff"/>
<polygon points="1237.0,3610.5 1259.7,3610.5 1259.7,3613.9 1261.7,3615.9 1250.8,3635.3 1245.0,3635.3 1234.1,3615.9 1237.0,3613.9" fill="#141414"/><polygon points="1242.9,3617.1 1252.8,3617.1 1247.9,3625.7" fill="#fff"/>
<polygon points="1287.8,3600.7 1310.5,3600.7 1310.5,3604.1 1312.5,3606.1 1301.6,3625.5 1295.8,3625.5 1284.9,3606.1 1287.8,3604.1" fill="#141414"/><polygon points="1293.7,3607.3 1303.6,3607.3 1298.7,3615.9" fill="#fff"/>
<polygon points="1339.8,3614.9 1362.5,3614.9 1362.5,3618.3 1364.5,3620.3 1353.6,3639.7 1347.8,3639.7 1336.9,3620.3 1339.8,3618.3" fill="#141414"/><polygon points="1345.7,3621.5 1355.6,3621.5 1350.7,3630.1" fill="#fff"/>
<polygon points="1391.7,3611.6 1414.4,3611.6 1414.4,3615.0 1416.4,3617.0 1405.5,3636.4 1399.7,3636.4 1388.8,3617.0 1391.7,3615.0" fill="#141414"/><polygon points="1397.6,3618.2 1407.5,3618.2 1402.6,3626.8" fill="#fff"/>
<polygon points="1443.7,3605.1 1466.4,3605.1 1466.4,3608.5 1468.4,3610.5 1457.5,3629.9 1451.7,3629.9 1440.8,3610.5 1443.7,3608.5" fill="#141414"/><polygon points="1449.6,3611.7 1459.5,3611.7 1454.6,3620.3" fill="#fff"/>
<polygon points="1547.6,3608.3 1570.3,3608.3 1570.3,3611.7 1572.3,3613.7 1561.4,3633.1 1555.6,3633.1 1544.7,3613.7 1547.6,3611.7" fill="#141414"/><polygon points="1553.5,3614.9 1563.4,3614.9 1558.5,3623.5" fill="#fff"/>
<polygon points="1598.4,3596.8 1621.1,3596.8 1621.1,3600.2 1623.1,3602.2 1612.2,3621.6 1606.4,3621.6 1595.5,3602.2 1598.4,3600.2" fill="#141414"/><polygon points="1604.3,3603.4 1614.2,3603.4 1609.3,3612.0" fill="#fff"/>
<polygon points="1650.4,3583.2 1673.1,3583.2 1673.1,3586.6 1675.1,3588.6 1664.2,3608.0 1658.4,3608.0 1647.5,3588.6 1650.4,3586.6" fill="#141414"/><polygon points="1656.3,3589.8 1666.2,3589.8 1661.3,3598.4" fill="#fff"/>
<polygon points="1701.8,3538.3 1724.5,3538.3 1724.5,3541.7 1726.5,3543.7 1715.6,3563.1 1709.8,3563.1 1698.9,3543.7 1701.8,3541.7" fill="#141414"/><polygon points="1707.7,3544.9 1717.6,3544.9 1712.7,3553.5" fill="#fff"/>
<polygon points="1754.2,3523.0 1776.9,3523.0 1776.9,3526.4 1778.9,3528.4 1768.0,3547.8 1762.2,3547.8 1751.3,3528.4 1754.2,3526.4" fill="#141414"/><polygon points="1760.1,3529.6 1770.0,3529.6 1765.1,3538.2" fill="#fff"/>
<polygon points="1805.6,3521.4 1828.3,3521.4 1828.3,3524.8 1830.3,3526.8 1819.4,3546.2 1813.6,3546.2 1802.7,3526.8 1805.6,3524.8" fill="#141414"/><polygon points="1811.5,3528.0 1821.4,3528.0 1816.5,3536.6" fill="#fff"/>
</g>
<text x="217.3" y="474.7" text-anchor="end">0</text>
<text x="217.3" y="333.4" text-anchor="end">0.05</text>
<text x="217.3" y="192.1" text-anchor="end">0.1</text>
<text x="217.3" y="877.7" text-anchor="end">0</text>
<text x="217.3" y="800.9" text-anchor="end">20</text>
<text x="217.3" y="724.1" text-anchor="end">40</text>
<text x="217.3" y="647.3" text-anchor="end">60</text>
<text x="217.3" y="570.5" text-anchor="end">80</text>
<text x="217.3" y="1357.8" text-anchor="end">-40</text>
<text x="217.3" y="1217.0" text-anchor="end">-20</text>
<text x="217.3" y="1076.1" text-anchor="end">0</text>
<text x="217.3" y="935.3" text-anchor="end">20</text>
<text x="217.3" y="1799.9" text-anchor="end">0</text>
<text x="217.3" y="1715.5" text-anchor="end">100</text>
<text x="217.3" y="1631.1" text-anchor="end">200</text>
<text x="217.3" y="1546.6" text-anchor="end">300</text>
<text x="217.3" y="1462.2" text-anchor="end">400</text>
<text x="426.2" y="1834.3" text-anchor="middle">Nov-11</text>
<text x="650.2" y="1834.3" text-anchor="middle">Dec-11</text>
<text x="881.7" y="1834.3" text-anchor="middle">Jan-12</text>
<text x="1113.2" y="1834.3" text-anchor="middle">Feb-12</text>
<text x="1329.7" y="1834.3" text-anchor="middle">Mar-12</text>
<text x="1561.2" y="1834.3" text-anchor="middle">Apr-12</text>
<text x="1785.2" y="1834.3" text-anchor="middle">May-12</text>
<text x="2016.7" y="1834.3" text-anchor="middle">Jun-12</text>
<text x="223.3" y="2522.1" text-anchor="end">0</text>
<text x="223.3" y="2382.7" text-anchor="end">0.05</text>
<text x="223.3" y="2243.4" text-anchor="end">0.1</text>
<text x="223.3" y="2919.3" text-anchor="end">0</text>
<text x="223.3" y="2843.3" text-anchor="end">20</text>
<text x="223.3" y="2767.3" text-anchor="end">40</text>
<text x="223.3" y="2691.3" text-anchor="end">60</text>
<text x="223.3" y="2615.3" text-anchor="end">80</text>
<text x="223.3" y="3393.9" text-anchor="end">-40</text>
<text x="223.3" y="3254.6" text-anchor="end">-20</text>
<text x="223.3" y="3115.3" text-anchor="end">0</text>
<text x="223.3" y="2976.0" text-anchor="end">20</text>
<text x="223.3" y="3830.8" text-anchor="end">0</text>
<text x="223.3" y="3747.3" text-anchor="end">100</text>
<text x="223.3" y="3663.7" text-anchor="end">200</text>
<text x="223.3" y="3580.2" text-anchor="end">300</text>
<text x="223.3" y="3496.6" text-anchor="end">400</text>
<text x="431.1" y="3865.2" text-anchor="middle">Nov-12</text>
<text x="653.0" y="3865.2" text-anchor="middle">Dec-12</text>
<text x="882.2" y="3865.2" text-anchor="middle">Jan-13</text>
<text x="1111.4" y="3865.2" text-anchor="middle">Feb-13</text>
<text x="1318.5" y="3865.2" text-anchor="middle">Mar-13</text>
<text x="1547.7" y="3865.2" text-anchor="middle">Apr-13</text>
<text x="1769.6" y="3865.2" text-anchor="middle">May-13</text>
<text x="1998.8" y="3865.2" text-anchor="middle">Jun-13</text>
<text x="2165.3" y="935.3">20</text>
<text x="2165.3" y="1005.7">10</text>
<text x="2165.3" y="1076.1">0</text>
<path d="M2158.3 918.0H2138.8M2158.3 988.4H2138.8M2158.3 1058.8H2138.8M2158.3 1199.7H2138.8" stroke="#1c1c1c" stroke-width="1.7" fill="none"/>
<text x="2145.5" y="2976.0">20</text>
<text x="2145.5" y="3045.7">10</text>
<text x="2145.5" y="3115.3">0</text>
<path d="M2138.5 2958.7H2119.0M2138.5 3028.3H2119.0M2138.5 3098.0H2119.0M2138.5 3237.3H2119.0" stroke="#1c1c1c" stroke-width="1.7" fill="none"/>
<text x="2165.3" y="1799.9">0</text>
<text x="2165.3" y="1715.5">20</text>
<text x="2165.3" y="1631.1">40</text>
<text x="2165.3" y="1546.6">60</text>
<text x="2165.3" y="1462.2">80</text>
<text x="2165.3" y="1377.8">100</text>
<path d="M2158.3 1782.6H2138.8M2158.3 1698.2H2138.8M2158.3 1613.8H2138.8M2158.3 1529.3H2138.8M2158.3 1444.9H2138.8M2158.3 1360.5H2138.8" stroke="#1c1c1c" stroke-width="1.7" fill="none"/>
<text x="2145.5" y="3830.8">0</text>
<text x="2145.5" y="3747.3">20</text>
<text x="2145.5" y="3663.7">40</text>
<text x="2145.5" y="3580.2">60</text>
<text x="2145.5" y="3496.6">80</text>
<text x="2145.5" y="3413.1">100</text>
<path d="M2138.5 3813.5H2119.0M2138.5 3730.0H2119.0M2138.5 3646.4H2119.0M2138.5 3562.9H2119.0M2138.5 3479.3H2119.0M2138.5 3395.8H2119.0" stroke="#1c1c1c" stroke-width="1.7" fill="none"/>
<text transform="translate(79.0,315.0) rotate(-90)" font-size="52" text-anchor="start" font-family="'Liberation Serif', 'Times New Roman', serif" >&#963;</text>
<text transform="translate(52.8,290.1) rotate(-90)" font-size="40" text-anchor="start"  >VV</text>
<text transform="translate(101.6,289.8) rotate(-90)" font-size="40" text-anchor="start"  >0</text>
<text transform="translate(79.0,222.7) rotate(-90)" font-size="50" text-anchor="start"  >(-)</text>
<text transform="translate(119.8,753.1) rotate(-90)" font-size="50" text-anchor="start" font-style="italic" >T</text>
<text transform="translate(94.1,726.5) rotate(-90)" font-size="40" text-anchor="start"  >V</text>
<text transform="translate(143.0,726.5) rotate(-90)" font-size="40" text-anchor="start"  >B</text>
<text transform="translate(119.8,686.7) rotate(-90)" font-size="50" text-anchor="start"  >(K)</text>
<text transform="translate(124.8,1198.0) rotate(-90)" font-size="50" text-anchor="start" font-style="italic" >T</text>
<text transform="translate(124.8,1154.6) rotate(-90)" font-size="50" text-anchor="start"  >(</text>
<text transform="translate(99.8,1137.5) rotate(-90)" font-size="40" text-anchor="start"  >o</text>
<text transform="translate(124.8,1116.5) rotate(-90)" font-size="50" text-anchor="start"  >C)</text>
<text transform="translate(114.5,1684.5) rotate(-90)" font-size="55" text-anchor="start" font-family="'Liberation Serif', 'Times New Roman', serif" font-style="italic" >&#961;</text>
<text transform="translate(113.8,1639.0) rotate(-90)" font-size="50" text-anchor="start"  >(kg m</text>
<text transform="translate(88.0,1515.5) rotate(-90)" font-size="40" text-anchor="start"  >-3</text>
<text transform="translate(113.8,1481.0) rotate(-90)" font-size="50" text-anchor="start"  >)</text>
<text transform="translate(87.0,2365.2) rotate(-90)" font-size="52" text-anchor="start" font-family="'Liberation Serif', 'Times New Roman', serif" >&#963;</text>
<text transform="translate(60.8,2340.3) rotate(-90)" font-size="40" text-anchor="start"  >VV</text>
<text transform="translate(109.6,2340.1) rotate(-90)" font-size="40" text-anchor="start"  >0</text>
<text transform="translate(87.0,2272.9) rotate(-90)" font-size="50" text-anchor="start"  >(-)</text>
<text transform="translate(127.8,2796.5) rotate(-90)" font-size="50" text-anchor="start" font-style="italic" >T</text>
<text transform="translate(102.1,2769.9) rotate(-90)" font-size="40" text-anchor="start"  >V</text>
<text transform="translate(151.0,2769.9) rotate(-90)" font-size="40" text-anchor="start"  >B</text>
<text transform="translate(127.8,2730.1) rotate(-90)" font-size="50" text-anchor="start"  >(K)</text>
<text transform="translate(132.8,3236.3) rotate(-90)" font-size="50" text-anchor="start" font-style="italic" >T</text>
<text transform="translate(132.8,3192.9) rotate(-90)" font-size="50" text-anchor="start"  >(</text>
<text transform="translate(107.8,3175.8) rotate(-90)" font-size="40" text-anchor="start"  >o</text>
<text transform="translate(132.8,3154.8) rotate(-90)" font-size="50" text-anchor="start"  >C)</text>
<text transform="translate(122.5,3717.7) rotate(-90)" font-size="55" text-anchor="start" font-family="'Liberation Serif', 'Times New Roman', serif" font-style="italic" >&#961;</text>
<text transform="translate(121.8,3672.2) rotate(-90)" font-size="50" text-anchor="start"  >(kg m</text>
<text transform="translate(96.0,3548.7) rotate(-90)" font-size="40" text-anchor="start"  >-3</text>
<text transform="translate(121.8,3514.2) rotate(-90)" font-size="50" text-anchor="start"  >)</text>
<text transform="translate(2278.0,1007.5) rotate(-90)" font-size="50" text-anchor="start" font-family="'Liberation Serif', 'Times New Roman', serif" font-style="italic" >&#949;</text>
<text transform="translate(2251.0,3051.0) rotate(-90)" font-size="50" text-anchor="start" font-family="'Liberation Serif', 'Times New Roman', serif" font-style="italic" >&#949;</text>
<text transform="translate(2301.5,1574.0) rotate(-90)" font-size="50" text-anchor="middle"  >SD (cm)</text>
<text transform="translate(2280.5,3607.2) rotate(-90)" font-size="50" text-anchor="middle"  >SD (cm)</text>
<rect x="937.7" y="52.0" width="541.9" height="201.0" fill="#fff" stroke="#1c1c1c" stroke-width="1.6"/>
<line x1="951.7" y1="88.5" x2="1026.3" y2="88.5" stroke="#eb0000" stroke-width="7"/>
<text x="1036.2" y="106.0" font-size="50" text-anchor="start" >13.3 - 10.2 GHz VV</text>
<line x1="951.7" y1="152.9" x2="1026.3" y2="152.9" stroke="#00cd00" stroke-width="7"/>
<text x="1036.2" y="170.4" font-size="50" text-anchor="start" >16.7 - 10.2 GHz VV</text>
<line x1="951.7" y1="216.5" x2="1026.3" y2="216.5" stroke="#0000d2" stroke-width="7"/>
<text x="1036.2" y="234.0" font-size="50" text-anchor="start" >16.7 - 13.2 GHz VV</text>
<rect x="1614.5" y="488.6" width="532.0" height="183.4" fill="#fff" stroke="#1c1c1c" stroke-width="1.6"/>
<line x1="1628.2" y1="520.3" x2="1703.2" y2="520.3" stroke="#eb0000" stroke-width="7"/>
<text x="1710.7" y="537.8" font-size="50" text-anchor="start" >10.65 - 18.7 GHz V</text>
<line x1="1628.2" y1="579.0" x2="1703.2" y2="579.0" stroke="#00cd00" stroke-width="7"/>
<text x="1710.7" y="596.5" font-size="50" text-anchor="start" >10.65 - 37 GHz V</text>
<line x1="1628.2" y1="638.1" x2="1703.2" y2="638.1" stroke="#0000d2" stroke-width="7"/>
<text x="1710.7" y="655.6" font-size="50" text-anchor="start" >18.7 - 37 GHz V</text>
<rect x="250.3" y="2106.4" width="535.6" height="198.6" fill="#fff" stroke="#1c1c1c" stroke-width="1.6"/>
<line x1="265.0" y1="2142.6" x2="338.3" y2="2142.6" stroke="#eb0000" stroke-width="7"/>
<text x="344.9" y="2160.1" font-size="50" text-anchor="start" >13.3 - 10.2 GHz VV</text>
<line x1="265.0" y1="2206.1" x2="338.3" y2="2206.1" stroke="#00cd00" stroke-width="7"/>
<text x="344.9" y="2223.6" font-size="50" text-anchor="start" >16.7 - 10.2 GHz VV</text>
<line x1="265.0" y1="2269.2" x2="338.3" y2="2269.2" stroke="#0000d2" stroke-width="7"/>
<text x="344.9" y="2286.7" font-size="50" text-anchor="start" >16.7 - 13.2 GHz VV</text>
<rect x="243.6" y="2514.6" width="531.0" height="198.7" fill="#fff" stroke="#1c1c1c" stroke-width="1.6"/>
<line x1="257.3" y1="2550.5" x2="331.3" y2="2550.5" stroke="#eb0000" stroke-width="7"/>
<text x="339.8" y="2568.0" font-size="50" text-anchor="start" >10.65 - 18.7 GHz V</text>
<line x1="257.3" y1="2614.0" x2="331.3" y2="2614.0" stroke="#00cd00" stroke-width="7"/>
<text x="339.8" y="2631.5" font-size="50" text-anchor="start" >10.65 - 37 GHz V</text>
<line x1="257.3" y1="2676.3" x2="331.3" y2="2676.3" stroke="#0000d2" stroke-width="7"/>
<text x="339.8" y="2693.8" font-size="50" text-anchor="start" >18.7 - 37 GHz V</text>
<rect x="1944.7" y="1076.2" width="201.8" height="253.1" fill="#fff" stroke="#1c1c1c" stroke-width="1.6"/>
<line x1="1959.0" y1="1120.3" x2="2032.9" y2="1120.3" stroke="#00c8f0" stroke-width="7"/>
<line x1="1959.0" y1="1200.3" x2="2032.9" y2="1200.3" stroke="#a07a7a" stroke-width="7"/>
<line x1="1959.0" y1="1283.3" x2="2032.9" y2="1283.3" stroke="#e84a00" stroke-width="7"/>
<text x="2045.0" y="1127.5" font-size="50" text-anchor="start" font-style="italic">T</text>
<text x="2074.0" y="1150.9" font-size="40" text-anchor="start" >air</text>
<text x="2045.0" y="1207.5" font-size="50" text-anchor="start" font-style="italic">T</text>
<text x="2074.0" y="1230.9" font-size="40" text-anchor="start" >gnd</text>
<text x="2043.0" y="1294.3" font-size="54" text-anchor="start" font-family="'Liberation Serif', 'Times New Roman', serif" font-style="italic">&#949;</text>
<text x="2062.0" y="1316.8" font-size="40" text-anchor="start" >gnd</text>
<rect x="1928.4" y="3115.0" width="199.9" height="250.4" fill="#fff" stroke="#1c1c1c" stroke-width="1.6"/>
<line x1="1943.0" y1="3158.6" x2="2015.7" y2="3158.6" stroke="#00c8f0" stroke-width="7"/>
<line x1="1943.0" y1="3238.3" x2="2015.7" y2="3238.3" stroke="#a07a7a" stroke-width="7"/>
<line x1="1943.0" y1="3319.1" x2="2015.7" y2="3319.1" stroke="#e84a00" stroke-width="7"/>
<text x="2027.4" y="3165.8" font-size="50" text-anchor="start" font-style="italic">T</text>
<text x="2056.4" y="3189.2" font-size="40" text-anchor="start" >air</text>
<text x="2027.4" y="3245.5" font-size="50" text-anchor="start" font-style="italic">T</text>
<text x="2056.4" y="3268.9" font-size="40" text-anchor="start" >gnd</text>
<text x="2025.4" y="3330.1" font-size="54" text-anchor="start" font-family="'Liberation Serif', 'Times New Roman', serif" font-style="italic">&#949;</text>
<text x="2044.4" y="3352.6" font-size="40" text-anchor="start" >gnd</text>
<rect x="242.6" y="1391.7" width="356.0" height="238.3" fill="#fff" stroke="#1c1c1c" stroke-width="1.6"/>
<polygon points="283.4,1430.1 306.1,1430.1 306.1,1433.5 308.1,1435.5 297.2,1454.9 291.4,1454.9 280.5,1435.5 283.4,1433.5" fill="#141414"/><polygon points="289.3,1436.7 299.2,1436.7 294.3,1445.3" fill="#fff"/>
<text x="339.7" y="1451.4" font-size="50" text-anchor="start" font-family="'Liberation Serif', 'Times New Roman', serif" font-style="italic">&#961;</text>
<text x="367.7" y="1473.9" font-size="40" text-anchor="start" >snow</text>
<line x1="257.4" y1="1522.3" x2="331.6" y2="1522.3" stroke="#808080" stroke-width="7"/>
<line x1="257.4" y1="1593.6" x2="331.6" y2="1593.6" stroke="#0000c8" stroke-width="7"/>
<text x="339.7" y="1545.6" font-size="50" text-anchor="start" >3</text>
<text x="368.2" y="1523.0" font-size="40" text-anchor="start" >rd</text>
<text x="416.7" y="1545.6" font-size="50" text-anchor="start" >order fit</text>
<text x="339.7" y="1610.4" font-size="50" text-anchor="start" >SD</text>
<rect x="259.6" y="3403.2" width="352.2" height="236.9" fill="#fff" stroke="#1c1c1c" stroke-width="1.6"/>
<polygon points="299.7,3439.7 322.4,3439.7 322.4,3443.1 324.4,3445.1 313.5,3464.5 307.7,3464.5 296.8,3445.1 299.7,3443.1" fill="#141414"/><polygon points="305.6,3446.3 315.5,3446.3 310.6,3454.9" fill="#fff"/>
<text x="355.4" y="3461.0" font-size="50" text-anchor="start" font-family="'Liberation Serif', 'Times New Roman', serif" font-style="italic">&#961;</text>
<text x="383.4" y="3483.5" font-size="40" text-anchor="start" >snow</text>
<line x1="274.8" y1="3533.4" x2="348.0" y2="3533.4" stroke="#808080" stroke-width="7"/>
<line x1="274.8" y1="3602.3" x2="348.0" y2="3602.3" stroke="#0000c8" stroke-width="7"/>
<text x="355.4" y="3556.7" font-size="50" text-anchor="start" >3</text>
<text x="383.9" y="3534.1" font-size="40" text-anchor="start" >rd</text>
<text x="432.4" y="3556.7" font-size="50" text-anchor="start" >order fit</text>
<text x="355.4" y="3619.1" font-size="50" text-anchor="start" >SD</text>
<text x="1164.4" y="1943.7" font-family="'Liberation Serif', 'Times New Roman', serif" font-size="86" text-anchor="middle">(<tspan font-weight="bold">c</tspan>)</text>
<text x="1164.8" y="3970.2" font-family="'Liberation Serif', 'Times New Roman', serif" font-size="77" text-anchor="middle">(<tspan font-weight="bold">d</tspan>)</text>

</svg></body></html>
